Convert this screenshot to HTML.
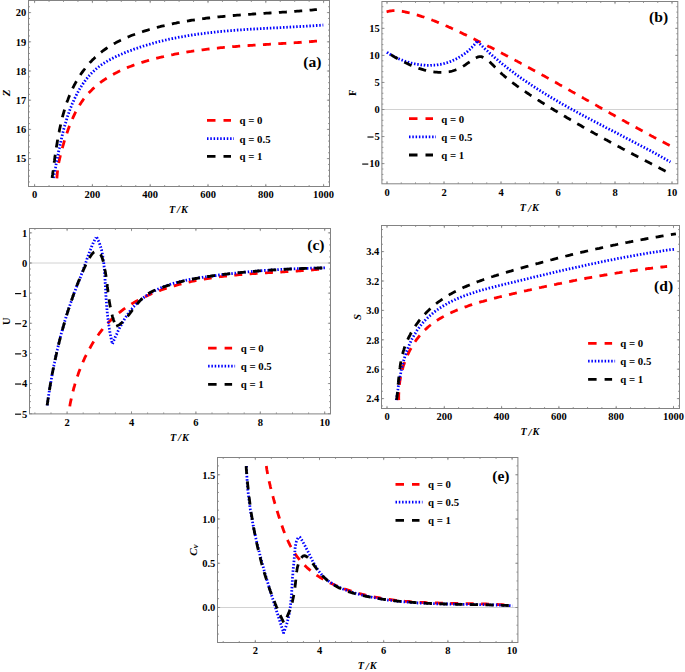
<!DOCTYPE html>
<html><head><meta charset="utf-8"><style>
html,body{margin:0;padding:0;background:#fff;}
svg{display:block;}
text{font-family:"Liberation Serif", serif;font-weight:bold;fill:#000;}
</style></head><body>
<svg width="685" height="672" viewBox="0 0 685 672">
<path d="M34.60 186.5v-2.6M34.60 0.5v2.6M92.40 186.5v-2.6M92.40 0.5v2.6M150.20 186.5v-2.6M150.20 0.5v2.6M208.00 186.5v-2.6M208.00 0.5v2.6M265.80 186.5v-2.6M265.80 0.5v2.6M323.60 186.5v-2.6M323.60 0.5v2.6M34.60 186.5v-1.5M34.60 0.5v1.5M49.05 186.5v-1.5M49.05 0.5v1.5M63.50 186.5v-1.5M63.50 0.5v1.5M77.95 186.5v-1.5M77.95 0.5v1.5M92.40 186.5v-1.5M92.40 0.5v1.5M106.85 186.5v-1.5M106.85 0.5v1.5M121.30 186.5v-1.5M121.30 0.5v1.5M135.75 186.5v-1.5M135.75 0.5v1.5M150.20 186.5v-1.5M150.20 0.5v1.5M164.65 186.5v-1.5M164.65 0.5v1.5M179.10 186.5v-1.5M179.10 0.5v1.5M193.55 186.5v-1.5M193.55 0.5v1.5M208.00 186.5v-1.5M208.00 0.5v1.5M222.45 186.5v-1.5M222.45 0.5v1.5M236.90 186.5v-1.5M236.90 0.5v1.5M251.35 186.5v-1.5M251.35 0.5v1.5M265.80 186.5v-1.5M265.80 0.5v1.5M280.25 186.5v-1.5M280.25 0.5v1.5M294.70 186.5v-1.5M294.70 0.5v1.5M309.15 186.5v-1.5M309.15 0.5v1.5M323.60 186.5v-1.5M323.60 0.5v1.5M28.5 158.60h2.6M329.5 158.60h-2.6M28.5 129.40h2.6M329.5 129.40h-2.6M28.5 100.20h2.6M329.5 100.20h-2.6M28.5 71.00h2.6M329.5 71.00h-2.6M28.5 41.80h2.6M329.5 41.80h-2.6M28.5 12.60h2.6M329.5 12.60h-2.6M28.5 181.96h1.5M329.5 181.96h-1.5M28.5 176.12h1.5M329.5 176.12h-1.5M28.5 170.28h1.5M329.5 170.28h-1.5M28.5 164.44h1.5M329.5 164.44h-1.5M28.5 158.60h1.5M329.5 158.60h-1.5M28.5 152.76h1.5M329.5 152.76h-1.5M28.5 146.92h1.5M329.5 146.92h-1.5M28.5 141.08h1.5M329.5 141.08h-1.5M28.5 135.24h1.5M329.5 135.24h-1.5M28.5 129.40h1.5M329.5 129.40h-1.5M28.5 123.56h1.5M329.5 123.56h-1.5M28.5 117.72h1.5M329.5 117.72h-1.5M28.5 111.88h1.5M329.5 111.88h-1.5M28.5 106.04h1.5M329.5 106.04h-1.5M28.5 100.20h1.5M329.5 100.20h-1.5M28.5 94.36h1.5M329.5 94.36h-1.5M28.5 88.52h1.5M329.5 88.52h-1.5M28.5 82.68h1.5M329.5 82.68h-1.5M28.5 76.84h1.5M329.5 76.84h-1.5M28.5 71.00h1.5M329.5 71.00h-1.5M28.5 65.16h1.5M329.5 65.16h-1.5M28.5 59.32h1.5M329.5 59.32h-1.5M28.5 53.48h1.5M329.5 53.48h-1.5M28.5 47.64h1.5M329.5 47.64h-1.5M28.5 41.80h1.5M329.5 41.80h-1.5M28.5 35.96h1.5M329.5 35.96h-1.5M28.5 30.12h1.5M329.5 30.12h-1.5M28.5 24.28h1.5M329.5 24.28h-1.5M28.5 18.44h1.5M329.5 18.44h-1.5M28.5 12.60h1.5M329.5 12.60h-1.5M28.5 6.76h1.5M329.5 6.76h-1.5" stroke="#838383" stroke-width="0.8" fill="none"/>
<rect x="28.5" y="0.5" width="301.0" height="186.0" fill="none" stroke="#838383" stroke-width="1"/>
<text x="34.60" y="198.30" text-anchor="middle" font-size="10.5">0</text>
<text x="92.40" y="198.30" text-anchor="middle" font-size="10.5">200</text>
<text x="150.20" y="198.30" text-anchor="middle" font-size="10.5">400</text>
<text x="208.00" y="198.30" text-anchor="middle" font-size="10.5">600</text>
<text x="265.80" y="198.30" text-anchor="middle" font-size="10.5">800</text>
<text x="323.60" y="198.30" text-anchor="middle" font-size="10.5">1000</text>
<text x="26.30" y="162.40" text-anchor="end" font-size="10.5">15</text>
<text x="26.30" y="133.20" text-anchor="end" font-size="10.5">16</text>
<text x="26.30" y="104.00" text-anchor="end" font-size="10.5">17</text>
<text x="26.30" y="74.80" text-anchor="end" font-size="10.5">18</text>
<text x="26.30" y="45.60" text-anchor="end" font-size="10.5">19</text>
<text x="26.30" y="16.40" text-anchor="end" font-size="10.5">20</text>
<text x="178.40" y="212.50" text-anchor="middle" font-size="10.2" font-style="italic">T<tspan dx="1.9" font-size="11" dy="0.6">/</tspan><tspan dx="0.9" dy="-0.6">K</tspan></text>
<text transform="translate(10.10,92.80) rotate(-90)" text-anchor="middle" font-size="10.9" font-style="italic">Z</text>
<text x="321.40" y="66.80" text-anchor="end" font-size="15.6">(a)</text>
<path d="M56.9 178.3 L57.0 176.5 L57.2 174.7 L57.3 173.0 L57.5 171.3 L57.7 169.6 L58.0 167.9 L58.2 166.3 L58.5 164.7 L58.7 163.1 L59.0 161.5 L59.4 159.9 L59.7 158.3 L60.1 156.8 L60.4 155.2 L60.8 153.7 L61.2 152.2 L61.6 150.6 L62.0 149.1 L62.5 147.5 L62.9 146.0 L63.4 144.4 L63.8 142.8 L64.3 141.2 L64.8 139.6 L65.3 138.0 L65.8 136.4 L66.4 134.8 L66.9 133.2 L67.5 131.6 L68.0 130.0 L68.6 128.3 L69.2 126.7 L69.9 125.1 L70.5 123.5 L71.1 121.9 L71.8 120.3 L72.5 118.7 L73.2 117.1 L73.9 115.6 L74.7 114.0 L75.4 112.5 L76.2 111.0 L77.0 109.5 L77.9 108.0 L78.7 106.5 L79.6 105.1 L80.5 103.7 L81.4 102.3 L82.4 100.9 L83.3 99.5 L84.3 98.2 L85.4 96.9 L86.4 95.7 L87.5 94.4 L88.6 93.2 L89.7 92.0 L90.8 90.9 L92.0 89.7 L93.1 88.6 L94.3 87.5 L95.5 86.4 L96.8 85.4 L98.0 84.4 L99.3 83.4 L100.6 82.4 L101.9 81.4 L103.2 80.5 L104.5 79.6 L105.9 78.7 L107.3 77.8 L108.7 76.9 L110.1 76.1 L111.5 75.3 L112.9 74.5 L114.3 73.7 L115.8 72.9 L117.3 72.2 L118.7 71.4 L120.2 70.7 L121.7 70.0 L123.2 69.3 L124.8 68.7 L126.3 68.0 L127.8 67.4 L129.4 66.8 L131.0 66.2 L132.5 65.6 L134.1 65.0 L135.7 64.4 L137.3 63.9 L138.9 63.4 L140.5 62.8 L142.1 62.3 L143.7 61.8 L145.3 61.3 L146.9 60.9 L148.6 60.4 L150.2 59.9 L151.8 59.5 L153.4 59.1 L155.1 58.6 L156.7 58.2 L158.3 57.8 L160.0 57.4 L161.6 57.0 L163.3 56.7 L164.9 56.3 L166.5 55.9 L168.2 55.6 L169.8 55.2 L171.4 54.9 L173.1 54.6 L174.7 54.2 L176.4 53.9 L178.0 53.6 L179.6 53.3 L181.3 53.0 L182.9 52.7 L184.6 52.4 L186.2 52.2 L187.8 51.9 L189.5 51.6 L191.1 51.4 L192.8 51.1 L194.4 50.9 L196.1 50.7 L197.7 50.4 L199.4 50.2 L201.0 50.0 L202.6 49.8 L204.3 49.6 L205.9 49.4 L207.6 49.2 L209.2 49.0 L210.9 48.8 L212.5 48.6 L214.2 48.4 L215.8 48.2 L217.5 48.1 L219.1 47.9 L220.8 47.7 L222.4 47.6 L224.1 47.4 L225.7 47.3 L227.4 47.1 L229.0 47.0 L230.7 46.9 L232.3 46.7 L234.0 46.6 L235.6 46.5 L237.3 46.3 L238.9 46.2 L240.6 46.1 L242.2 46.0 L243.9 45.8 L245.5 45.7 L247.2 45.6 L248.9 45.5 L250.5 45.4 L252.2 45.3 L253.8 45.2 L255.5 45.1 L257.1 45.0 L258.8 44.9 L260.5 44.8 L262.1 44.7 L263.8 44.6 L265.4 44.5 L267.1 44.4 L268.8 44.3 L270.4 44.2 L272.1 44.1 L273.7 44.0 L275.4 43.9 L277.1 43.8 L278.7 43.7 L280.4 43.6 L282.0 43.5 L283.7 43.4 L285.4 43.3 L287.0 43.2 L288.7 43.1 L290.4 43.0 L292.0 42.9 L293.7 42.8 L295.4 42.7 L297.0 42.6 L298.7 42.5 L300.4 42.4 L302.0 42.2 L303.7 42.1 L305.4 42.0 L307.0 41.9 L308.7 41.8 L310.4 41.6 L312.0 41.5 L313.7 41.4 L315.4 41.2 L317.0 41.1" fill="none" stroke="#ff0000" stroke-width="2.8" stroke-dasharray="8 7.4" stroke-linejoin="round"/>
<path d="M53.4 178.0 L53.8 176.3 L54.1 174.6 L54.5 172.9 L54.8 171.2 L55.1 169.5 L55.5 167.8 L55.8 166.0 L56.1 164.3 L56.5 162.6 L56.8 160.8 L57.2 159.1 L57.5 157.4 L57.8 155.6 L58.2 153.9 L58.5 152.1 L58.9 150.4 L59.3 148.6 L59.6 146.9 L60.0 145.1 L60.4 143.4 L60.8 141.6 L61.2 139.9 L61.6 138.1 L62.0 136.4 L62.4 134.6 L62.8 132.9 L63.3 131.1 L63.7 129.4 L64.2 127.7 L64.7 125.9 L65.2 124.2 L65.7 122.5 L66.2 120.8 L66.7 119.1 L67.3 117.4 L67.8 115.7 L68.4 114.0 L69.0 112.3 L69.6 110.6 L70.2 108.9 L70.9 107.2 L71.6 105.6 L72.2 103.9 L72.9 102.3 L73.7 100.7 L74.4 99.0 L75.2 97.4 L76.0 95.8 L76.8 94.2 L77.6 92.7 L78.5 91.1 L79.3 89.6 L80.2 88.0 L81.2 86.5 L82.1 85.1 L83.1 83.6 L84.1 82.2 L85.2 80.7 L86.2 79.3 L87.3 78.0 L88.4 76.6 L89.6 75.3 L90.8 74.0 L92.0 72.8 L93.2 71.6 L94.5 70.4 L95.8 69.2 L97.1 68.1 L98.5 67.0 L99.9 65.9 L101.3 64.9 L102.8 63.9 L104.2 63.0 L105.7 62.0 L107.3 61.1 L108.8 60.2 L110.4 59.4 L112.0 58.6 L113.6 57.8 L115.2 57.0 L116.8 56.2 L118.5 55.5 L120.1 54.7 L121.8 54.0 L123.4 53.3 L125.1 52.6 L126.8 52.0 L128.4 51.3 L130.1 50.7 L131.8 50.1 L133.5 49.4 L135.2 48.8 L136.9 48.3 L138.5 47.7 L140.2 47.1 L141.9 46.6 L143.6 46.0 L145.3 45.5 L147.0 45.0 L148.8 44.5 L150.5 44.0 L152.2 43.5 L153.9 43.0 L155.6 42.5 L157.3 42.1 L159.0 41.6 L160.8 41.2 L162.5 40.8 L164.2 40.4 L165.9 40.0 L167.7 39.6 L169.4 39.2 L171.1 38.8 L172.9 38.5 L174.6 38.1 L176.4 37.8 L178.1 37.4 L179.8 37.1 L181.6 36.8 L183.3 36.5 L185.1 36.2 L186.8 35.9 L188.6 35.6 L190.3 35.3 L192.1 35.0 L193.8 34.7 L195.6 34.5 L197.4 34.2 L199.1 34.0 L200.9 33.8 L202.6 33.5 L204.4 33.3 L206.2 33.1 L207.9 32.9 L209.7 32.7 L211.5 32.5 L213.2 32.3 L215.0 32.1 L216.8 31.9 L218.6 31.7 L220.3 31.5 L222.1 31.4 L223.9 31.2 L225.7 31.0 L227.4 30.9 L229.2 30.7 L231.0 30.6 L232.8 30.4 L234.5 30.3 L236.3 30.2 L238.1 30.0 L239.9 29.9 L241.7 29.8 L243.4 29.7 L245.2 29.6 L247.0 29.4 L248.8 29.3 L250.6 29.2 L252.3 29.1 L254.1 29.0 L255.9 28.9 L257.7 28.8 L259.5 28.7 L261.3 28.6 L263.0 28.5 L264.8 28.4 L266.6 28.3 L268.4 28.2 L270.2 28.1 L271.9 28.0 L273.7 27.9 L275.5 27.9 L277.3 27.8 L279.1 27.7 L280.8 27.6 L282.6 27.5 L284.4 27.4 L286.2 27.3 L288.0 27.2 L289.7 27.1 L291.5 27.0 L293.3 26.9 L295.1 26.8 L296.8 26.7 L298.6 26.6 L300.4 26.5 L302.1 26.4 L303.9 26.3 L305.7 26.2 L307.5 26.1 L309.2 26.0 L311.0 25.9 L312.7 25.8 L314.5 25.6 L316.3 25.5 L318.0 25.4 L319.8 25.3 L321.6 25.1 L323.3 25.0" fill="none" stroke="#0000ff" stroke-width="2.8" stroke-dasharray="1.5 1.8" stroke-linejoin="round"/>
<path d="M52.1 178.0 L52.3 176.3 L52.6 174.5 L52.8 172.8 L53.1 171.0 L53.3 169.3 L53.5 167.5 L53.8 165.7 L54.0 163.9 L54.2 162.2 L54.5 160.4 L54.7 158.6 L55.0 156.8 L55.2 155.0 L55.5 153.2 L55.8 151.4 L56.0 149.6 L56.3 147.8 L56.6 146.0 L56.9 144.2 L57.2 142.4 L57.5 140.6 L57.8 138.8 L58.1 137.0 L58.5 135.2 L58.8 133.4 L59.2 131.6 L59.5 129.8 L59.9 128.0 L60.3 126.2 L60.7 124.4 L61.1 122.6 L61.5 120.8 L62.0 119.0 L62.4 117.2 L62.9 115.4 L63.4 113.7 L63.9 111.9 L64.4 110.1 L64.9 108.4 L65.5 106.6 L66.0 104.9 L66.6 103.1 L67.2 101.4 L67.9 99.7 L68.5 98.0 L69.2 96.3 L69.9 94.6 L70.6 92.9 L71.4 91.2 L72.1 89.6 L72.9 87.9 L73.7 86.3 L74.5 84.7 L75.4 83.1 L76.3 81.5 L77.2 79.9 L78.1 78.4 L79.1 76.9 L80.1 75.3 L81.1 73.8 L82.1 72.4 L83.2 70.9 L84.3 69.5 L85.4 68.0 L86.5 66.6 L87.7 65.2 L88.8 63.9 L90.0 62.5 L91.3 61.2 L92.5 59.9 L93.8 58.7 L95.1 57.4 L96.4 56.2 L97.7 55.0 L99.1 53.9 L100.5 52.7 L101.9 51.6 L103.3 50.5 L104.8 49.5 L106.2 48.5 L107.7 47.5 L109.3 46.5 L110.8 45.5 L112.3 44.6 L113.9 43.7 L115.5 42.9 L117.1 42.0 L118.7 41.2 L120.3 40.4 L121.9 39.6 L123.6 38.8 L125.3 38.1 L126.9 37.4 L128.6 36.7 L130.3 36.0 L132.0 35.3 L133.7 34.7 L135.5 34.1 L137.2 33.4 L138.9 32.8 L140.7 32.3 L142.4 31.7 L144.1 31.1 L145.9 30.6 L147.6 30.1 L149.4 29.5 L151.1 29.0 L152.9 28.5 L154.7 28.0 L156.4 27.6 L158.2 27.1 L159.9 26.7 L161.7 26.2 L163.5 25.8 L165.3 25.4 L167.0 25.0 L168.8 24.6 L170.6 24.2 L172.4 23.8 L174.1 23.4 L175.9 23.1 L177.7 22.7 L179.5 22.4 L181.3 22.0 L183.1 21.7 L184.8 21.4 L186.6 21.1 L188.4 20.8 L190.2 20.5 L192.0 20.2 L193.8 20.0 L195.6 19.7 L197.4 19.4 L199.2 19.2 L201.0 18.9 L202.8 18.7 L204.6 18.5 L206.4 18.2 L208.2 18.0 L210.0 17.8 L211.8 17.6 L213.6 17.4 L215.5 17.2 L217.3 17.0 L219.1 16.8 L220.9 16.6 L222.7 16.5 L224.5 16.3 L226.3 16.1 L228.1 16.0 L229.9 15.8 L231.8 15.7 L233.6 15.5 L235.4 15.4 L237.2 15.2 L239.0 15.1 L240.8 14.9 L242.7 14.8 L244.5 14.7 L246.3 14.5 L248.1 14.4 L249.9 14.3 L251.7 14.2 L253.6 14.0 L255.4 13.9 L257.2 13.8 L259.0 13.7 L260.8 13.6 L262.6 13.5 L264.5 13.3 L266.3 13.2 L268.1 13.1 L269.9 13.0 L271.7 12.9 L273.5 12.8 L275.4 12.7 L277.2 12.6 L279.0 12.4 L280.8 12.3 L282.6 12.2 L284.4 12.1 L286.2 12.0 L288.1 11.8 L289.9 11.7 L291.7 11.6 L293.5 11.5 L295.3 11.3 L297.1 11.2 L298.9 11.1 L300.7 10.9 L302.5 10.8 L304.3 10.7 L306.1 10.5 L307.9 10.4 L309.7 10.2 L311.5 10.1 L313.3 9.9 L315.1 9.7 L316.9 9.6" fill="none" stroke="#000000" stroke-width="2.8" stroke-dasharray="8 7.4" stroke-linejoin="round"/>
<path d="M207.00 120.30h8.5M223.50 120.30h7.5" stroke="#ff0000" stroke-width="2.8"/>
<path d="M207.00 156.40h8.5M223.50 156.40h7.5" stroke="#000000" stroke-width="2.8"/>
<path d="M207.00 138.60h27" stroke="#0000ff" stroke-width="2.8" stroke-dasharray="1.5 1.8"/>
<text x="239.50" y="124.20" font-size="10.8">q = 0</text>
<text x="239.50" y="142.50" font-size="10.8">q = 0.5</text>
<text x="239.50" y="160.30" font-size="10.8">q = 1</text>
<line x1="381.9" x2="677.8" y1="109.50" y2="109.50" stroke="#d2d2d2" stroke-width="1"/>
<path d="M387.00 183.8v-2.6M387.00 1.5v2.6M444.00 183.8v-2.6M444.00 1.5v2.6M501.00 183.8v-2.6M501.00 1.5v2.6M558.00 183.8v-2.6M558.00 1.5v2.6M615.00 183.8v-2.6M615.00 1.5v2.6M672.00 183.8v-2.6M672.00 1.5v2.6M387.00 183.8v-1.5M387.00 1.5v1.5M401.25 183.8v-1.5M401.25 1.5v1.5M415.50 183.8v-1.5M415.50 1.5v1.5M429.75 183.8v-1.5M429.75 1.5v1.5M444.00 183.8v-1.5M444.00 1.5v1.5M458.25 183.8v-1.5M458.25 1.5v1.5M472.50 183.8v-1.5M472.50 1.5v1.5M486.75 183.8v-1.5M486.75 1.5v1.5M501.00 183.8v-1.5M501.00 1.5v1.5M515.25 183.8v-1.5M515.25 1.5v1.5M529.50 183.8v-1.5M529.50 1.5v1.5M543.75 183.8v-1.5M543.75 1.5v1.5M558.00 183.8v-1.5M558.00 1.5v1.5M572.25 183.8v-1.5M572.25 1.5v1.5M586.50 183.8v-1.5M586.50 1.5v1.5M600.75 183.8v-1.5M600.75 1.5v1.5M615.00 183.8v-1.5M615.00 1.5v1.5M629.25 183.8v-1.5M629.25 1.5v1.5M643.50 183.8v-1.5M643.50 1.5v1.5M657.75 183.8v-1.5M657.75 1.5v1.5M672.00 183.8v-1.5M672.00 1.5v1.5M381.9 163.60h2.6M677.8 163.60h-2.6M381.9 136.55h2.6M677.8 136.55h-2.6M381.9 109.50h2.6M677.8 109.50h-2.6M381.9 82.45h2.6M677.8 82.45h-2.6M381.9 55.40h2.6M677.8 55.40h-2.6M381.9 28.35h2.6M677.8 28.35h-2.6M381.9 179.83h1.5M677.8 179.83h-1.5M381.9 174.42h1.5M677.8 174.42h-1.5M381.9 169.01h1.5M677.8 169.01h-1.5M381.9 163.60h1.5M677.8 163.60h-1.5M381.9 158.19h1.5M677.8 158.19h-1.5M381.9 152.78h1.5M677.8 152.78h-1.5M381.9 147.37h1.5M677.8 147.37h-1.5M381.9 141.96h1.5M677.8 141.96h-1.5M381.9 136.55h1.5M677.8 136.55h-1.5M381.9 131.14h1.5M677.8 131.14h-1.5M381.9 125.73h1.5M677.8 125.73h-1.5M381.9 120.32h1.5M677.8 120.32h-1.5M381.9 114.91h1.5M677.8 114.91h-1.5M381.9 109.50h1.5M677.8 109.50h-1.5M381.9 104.09h1.5M677.8 104.09h-1.5M381.9 98.68h1.5M677.8 98.68h-1.5M381.9 93.27h1.5M677.8 93.27h-1.5M381.9 87.86h1.5M677.8 87.86h-1.5M381.9 82.45h1.5M677.8 82.45h-1.5M381.9 77.04h1.5M677.8 77.04h-1.5M381.9 71.63h1.5M677.8 71.63h-1.5M381.9 66.22h1.5M677.8 66.22h-1.5M381.9 60.81h1.5M677.8 60.81h-1.5M381.9 55.40h1.5M677.8 55.40h-1.5M381.9 49.99h1.5M677.8 49.99h-1.5M381.9 44.58h1.5M677.8 44.58h-1.5M381.9 39.17h1.5M677.8 39.17h-1.5M381.9 33.76h1.5M677.8 33.76h-1.5M381.9 28.35h1.5M677.8 28.35h-1.5M381.9 22.94h1.5M677.8 22.94h-1.5M381.9 17.53h1.5M677.8 17.53h-1.5M381.9 12.12h1.5M677.8 12.12h-1.5M381.9 6.71h1.5M677.8 6.71h-1.5" stroke="#838383" stroke-width="0.8" fill="none"/>
<rect x="381.9" y="1.5" width="295.9" height="182.3" fill="none" stroke="#838383" stroke-width="1"/>
<text x="387.00" y="195.60" text-anchor="middle" font-size="10.5">0</text>
<text x="444.00" y="195.60" text-anchor="middle" font-size="10.5">2</text>
<text x="501.00" y="195.60" text-anchor="middle" font-size="10.5">4</text>
<text x="558.00" y="195.60" text-anchor="middle" font-size="10.5">6</text>
<text x="615.00" y="195.60" text-anchor="middle" font-size="10.5">8</text>
<text x="672.00" y="195.60" text-anchor="middle" font-size="10.5">10</text>
<text x="379.70" y="167.40" text-anchor="end" font-size="10.5">10</text>
<rect x="362.20" y="163.50" width="6.1" height="1.15" fill="#000"/>
<text x="379.70" y="140.35" text-anchor="end" font-size="10.5">5</text>
<rect x="367.45" y="136.45" width="6.1" height="1.15" fill="#000"/>
<text x="379.70" y="113.30" text-anchor="end" font-size="10.5">0</text>
<text x="379.70" y="86.25" text-anchor="end" font-size="10.5">5</text>
<text x="379.70" y="59.20" text-anchor="end" font-size="10.5">10</text>
<text x="379.70" y="32.15" text-anchor="end" font-size="10.5">15</text>
<text x="529.25" y="211.00" text-anchor="middle" font-size="10.2" font-style="italic">T<tspan dx="1.9" font-size="11" dy="0.6">/</tspan><tspan dx="0.9" dy="-0.6">K</tspan></text>
<text transform="translate(356.10,92.65) rotate(-90)" text-anchor="middle" font-size="10.8">F</text>
<text x="668.10" y="22.10" text-anchor="end" font-size="15.6">(b)</text>
<path d="M386.6 11.8 L388.2 11.4 L389.7 11.0 L391.3 10.8 L392.8 10.7 L394.4 10.6 L395.9 10.6 L397.5 10.7 L399.1 10.9 L400.6 11.1 L402.2 11.3 L403.8 11.6 L405.3 12.0 L406.9 12.3 L408.4 12.7 L409.9 13.0 L411.5 13.4 L413.0 13.8 L414.5 14.3 L416.1 14.7 L417.6 15.1 L419.1 15.6 L420.6 16.1 L422.1 16.6 L423.6 17.0 L425.1 17.6 L426.6 18.1 L428.1 18.6 L429.6 19.1 L431.1 19.7 L432.6 20.3 L434.0 20.8 L435.5 21.4 L437.0 22.0 L438.5 22.6 L439.9 23.2 L441.4 23.8 L442.9 24.4 L444.3 25.0 L445.8 25.7 L447.2 26.3 L448.7 27.0 L450.1 27.6 L451.6 28.3 L453.0 28.9 L454.5 29.6 L455.9 30.3 L457.4 30.9 L458.8 31.6 L460.2 32.3 L461.7 33.0 L463.1 33.7 L464.5 34.4 L466.0 35.0 L467.4 35.7 L468.8 36.4 L470.3 37.1 L471.7 37.8 L473.1 38.5 L474.6 39.2 L476.0 39.9 L477.4 40.7 L478.8 41.4 L480.2 42.1 L481.7 42.8 L483.1 43.5 L484.5 44.2 L485.9 44.9 L487.3 45.7 L488.7 46.4 L490.2 47.1 L491.6 47.8 L493.0 48.5 L494.4 49.3 L495.8 50.0 L497.2 50.7 L498.6 51.5 L500.0 52.2 L501.4 52.9 L502.8 53.7 L504.3 54.4 L505.7 55.2 L507.1 55.9 L508.5 56.6 L509.9 57.4 L511.3 58.1 L512.7 58.9 L514.1 59.6 L515.5 60.4 L516.9 61.1 L518.3 61.9 L519.7 62.6 L521.1 63.4 L522.5 64.1 L523.8 64.9 L525.2 65.7 L526.6 66.4 L528.0 67.2 L529.4 67.9 L530.8 68.7 L532.2 69.5 L533.6 70.2 L535.0 71.0 L536.4 71.7 L537.8 72.5 L539.2 73.3 L540.5 74.0 L541.9 74.8 L543.3 75.6 L544.7 76.3 L546.1 77.1 L547.5 77.9 L548.9 78.7 L550.2 79.4 L551.6 80.2 L553.0 81.0 L554.4 81.8 L555.8 82.5 L557.2 83.3 L558.6 84.1 L559.9 84.9 L561.3 85.6 L562.7 86.4 L564.1 87.2 L565.5 88.0 L566.9 88.7 L568.2 89.5 L569.6 90.3 L571.0 91.1 L572.4 91.9 L573.8 92.6 L575.1 93.4 L576.5 94.2 L577.9 95.0 L579.3 95.8 L580.7 96.5 L582.1 97.3 L583.4 98.1 L584.8 98.9 L586.2 99.7 L587.6 100.4 L589.0 101.2 L590.3 102.0 L591.7 102.8 L593.1 103.6 L594.5 104.3 L595.9 105.1 L597.3 105.9 L598.6 106.7 L600.0 107.4 L601.4 108.2 L602.8 109.0 L604.2 109.8 L605.6 110.6 L606.9 111.3 L608.3 112.1 L609.7 112.9 L611.1 113.7 L612.5 114.4 L613.9 115.2 L615.2 116.0 L616.6 116.8 L618.0 117.5 L619.4 118.3 L620.8 119.1 L622.2 119.9 L623.6 120.6 L625.0 121.4 L626.3 122.2 L627.7 122.9 L629.1 123.7 L630.5 124.5 L631.9 125.2 L633.3 126.0 L634.7 126.8 L636.1 127.5 L637.5 128.3 L638.9 129.0 L640.3 129.8 L641.7 130.6 L643.0 131.3 L644.4 132.1 L645.8 132.8 L647.2 133.6 L648.6 134.4 L650.0 135.1 L651.4 135.9 L652.8 136.6 L654.2 137.4 L655.6 138.1 L657.0 138.9 L658.4 139.6 L659.8 140.4 L661.2 141.1 L662.7 141.8 L664.1 142.6 L665.5 143.3 L666.9 144.1 L668.3 144.8 L669.7 145.5" fill="none" stroke="#ff0000" stroke-width="2.8" stroke-dasharray="8 7.4" stroke-linejoin="round"/>
<path d="M386.9 52.3 L387.3 52.6 L387.8 52.8 L388.2 53.1 L388.6 53.4 L389.0 53.6 L389.4 53.9 L389.9 54.2 L390.3 54.4 L390.7 54.7 L391.1 54.9 L391.6 55.2 L392.0 55.4 L392.5 55.7 L392.9 55.9 L393.3 56.1 L393.8 56.4 L394.2 56.6 L394.7 56.8 L395.1 57.1 L395.6 57.3 L396.0 57.5 L396.5 57.7 L396.9 57.9 L397.4 58.2 L397.9 58.4 L398.3 58.6 L398.8 58.8 L399.2 59.0 L399.7 59.2 L400.2 59.4 L400.7 59.6 L401.1 59.8 L401.6 60.0 L402.1 60.1 L402.5 60.3 L403.0 60.5 L403.5 60.7 L404.0 60.9 L404.5 61.0 L404.9 61.2 L405.4 61.4 L405.9 61.5 L406.4 61.7 L406.9 61.8 L407.4 62.0 L407.8 62.1 L408.3 62.3 L408.8 62.4 L409.3 62.6 L409.8 62.7 L410.3 62.8 L410.8 63.0 L411.3 63.1 L411.8 63.2 L412.3 63.3 L412.8 63.5 L413.3 63.6 L413.8 63.7 L414.3 63.8 L414.8 63.9 L415.3 64.0 L415.8 64.1 L416.3 64.2 L416.8 64.3 L417.3 64.4 L417.8 64.4 L418.3 64.5 L418.8 64.6 L419.3 64.7 L419.8 64.7 L420.3 64.8 L420.8 64.9 L421.3 64.9 L421.8 65.0 L422.3 65.0 L422.8 65.1 L423.3 65.1 L423.8 65.2 L424.3 65.2 L424.8 65.2 L425.3 65.3 L425.8 65.3 L426.3 65.3 L426.8 65.3 L427.3 65.3 L427.8 65.4 L428.3 65.4 L428.8 65.4 L429.3 65.4 L429.8 65.4 L430.3 65.4 L430.8 65.3 L431.3 65.3 L431.8 65.3 L432.3 65.3 L432.8 65.3 L433.3 65.2 L433.8 65.2 L434.3 65.1 L434.8 65.1 L435.3 65.1 L435.8 65.0 L436.3 64.9 L436.8 64.9 L437.3 64.8 L437.8 64.8 L438.3 64.7 L438.8 64.6 L439.3 64.5 L439.8 64.4 L440.2 64.4 L440.7 64.3 L441.2 64.2 L441.7 64.1 L442.2 64.0 L442.7 63.8 L443.2 63.7 L443.6 63.6 L444.1 63.5 L444.6 63.4 L445.1 63.2 L445.6 63.1 L446.0 63.0 L446.5 62.8 L447.0 62.7 L447.5 62.5 L447.9 62.4 L448.4 62.2 L448.9 62.1 L449.3 61.9 L449.8 61.7 L450.3 61.6 L450.7 61.4 L451.2 61.2 L451.6 61.0 L452.1 60.8 L452.6 60.6 L453.0 60.4 L453.5 60.2 L453.9 60.0 L454.4 59.8 L454.8 59.6 L455.3 59.4 L455.7 59.2 L456.2 58.9 L456.6 58.7 L457.0 58.5 L457.5 58.3 L457.9 58.0 L458.4 57.8 L458.8 57.5 L459.2 57.3 L459.7 57.0 L460.1 56.8 L460.5 56.5 L460.9 56.2 L461.4 56.0 L461.8 55.7 L462.2 55.4 L462.6 55.1 L463.0 54.9 L463.4 54.6 L463.8 54.3 L464.3 54.0 L464.7 53.7 L465.1 53.4 L465.5 53.1 L465.9 52.8 L466.3 52.4 L466.7 52.1 L467.1 51.8 L467.4 51.5 L467.8 51.2 L468.2 50.8 L468.6 50.5 L469.0 50.1 L469.4 49.8 L469.7 49.5 L470.1 49.1 L470.5 48.7 L470.9 48.4 L471.2 48.0 L471.6 47.7 L472.0 47.3 L472.3 46.9 L472.7 46.6 L473.0 46.2 L473.4 45.8 L473.7 45.4 L474.1 45.0 L474.4 44.6 L474.8 44.2 L475.1 43.8 L475.4 43.4 L475.8 43.0 L476.1 42.6 L476.4 42.2 L476.7 41.8 L477.1 41.4" fill="none" stroke="#0000ff" stroke-width="2.8" stroke-dasharray="1.5 1.8" stroke-linejoin="round"/>
<path d="M477.4 41.4 L478.2 42.2 L479.0 43.0 L479.9 43.9 L480.7 44.7 L481.5 45.5 L482.3 46.3 L483.2 47.1 L484.0 47.9 L484.8 48.7 L485.7 49.5 L486.5 50.3 L487.4 51.0 L488.2 51.8 L489.1 52.6 L489.9 53.4 L490.8 54.1 L491.7 54.9 L492.5 55.7 L493.4 56.4 L494.3 57.2 L495.1 57.9 L496.0 58.7 L496.9 59.4 L497.8 60.1 L498.6 60.9 L499.5 61.6 L500.4 62.3 L501.3 63.1 L502.2 63.8 L503.1 64.5 L504.0 65.2 L504.9 65.9 L505.8 66.7 L506.7 67.4 L507.6 68.1 L508.5 68.8 L509.4 69.5 L510.3 70.2 L511.2 70.8 L512.1 71.5 L513.1 72.2 L514.0 72.9 L514.9 73.6 L515.8 74.3 L516.7 74.9 L517.7 75.6 L518.6 76.3 L519.5 76.9 L520.5 77.6 L521.4 78.3 L522.3 78.9 L523.3 79.6 L524.2 80.2 L525.2 80.9 L526.1 81.5 L527.1 82.2 L528.0 82.8 L529.0 83.4 L529.9 84.1 L530.9 84.7 L531.8 85.3 L532.8 86.0 L533.7 86.6 L534.7 87.2 L535.6 87.8 L536.6 88.5 L537.6 89.1 L538.5 89.7 L539.5 90.3 L540.5 90.9 L541.5 91.5 L542.4 92.1 L543.4 92.7 L544.4 93.3 L545.3 93.9 L546.3 94.5 L547.3 95.1 L548.3 95.7 L549.3 96.3 L550.2 96.9 L551.2 97.5 L552.2 98.1 L553.2 98.7 L554.2 99.3 L555.2 99.9 L556.2 100.4 L557.2 101.0 L558.2 101.6 L559.2 102.2 L560.1 102.7 L561.1 103.3 L562.1 103.9 L563.1 104.4 L564.1 105.0 L565.1 105.6 L566.1 106.1 L567.1 106.7 L568.1 107.3 L569.1 107.8 L570.1 108.4 L571.2 109.0 L572.2 109.5 L573.2 110.1 L574.2 110.6 L575.2 111.2 L576.2 111.7 L577.2 112.3 L578.2 112.8 L579.2 113.4 L580.2 113.9 L581.2 114.5 L582.3 115.0 L583.3 115.6 L584.3 116.1 L585.3 116.6 L586.3 117.2 L587.3 117.7 L588.4 118.3 L589.4 118.8 L590.4 119.4 L591.4 119.9 L592.4 120.4 L593.4 121.0 L594.5 121.5 L595.5 122.0 L596.5 122.6 L597.5 123.1 L598.5 123.6 L599.6 124.2 L600.6 124.7 L601.6 125.2 L602.6 125.8 L603.6 126.3 L604.7 126.8 L605.7 127.4 L606.7 127.9 L607.7 128.4 L608.8 129.0 L609.8 129.5 L610.8 130.0 L611.8 130.5 L612.8 131.1 L613.9 131.6 L614.9 132.1 L615.9 132.7 L616.9 133.2 L618.0 133.7 L619.0 134.3 L620.0 134.8 L621.0 135.3 L622.0 135.8 L623.1 136.4 L624.1 136.9 L625.1 137.4 L626.1 138.0 L627.1 138.5 L628.2 139.0 L629.2 139.6 L630.2 140.1 L631.2 140.6 L632.2 141.2 L633.2 141.7 L634.3 142.2 L635.3 142.8 L636.3 143.3 L637.3 143.8 L638.3 144.4 L639.3 144.9 L640.4 145.4 L641.4 146.0 L642.4 146.5 L643.4 147.1 L644.4 147.6 L645.4 148.1 L646.4 148.7 L647.4 149.2 L648.4 149.8 L649.5 150.3 L650.5 150.8 L651.5 151.4 L652.5 151.9 L653.5 152.5 L654.5 153.0 L655.5 153.6 L656.5 154.1 L657.5 154.7 L658.5 155.2 L659.5 155.8 L660.5 156.4 L661.5 156.9 L662.5 157.5 L663.5 158.0 L664.5 158.6 L665.5 159.1 L666.4 159.7 L667.4 160.3 L668.4 160.8 L669.4 161.4 L670.4 162.0" fill="none" stroke="#0000ff" stroke-width="2.8" stroke-dasharray="1.5 1.8" stroke-linejoin="round"/>
<path d="M387.2 52.4 L388.4 53.2 L389.7 54.0 L391.0 54.8 L392.3 55.6 L393.7 56.4 L395.0 57.2 L396.4 58.0 L397.8 58.8 L399.2 59.5 L400.7 60.3 L402.1 61.1 L403.6 61.8 L405.1 62.6 L406.6 63.3 L408.1 64.0 L409.6 64.7 L411.2 65.4 L412.7 66.0 L414.3 66.7 L415.9 67.3 L417.4 67.8 L419.0 68.4 L420.6 68.9 L422.2 69.4 L423.8 69.9 L425.4 70.3 L427.0 70.7 L428.6 71.1 L430.3 71.4 L431.9 71.7 L433.5 71.9 L435.1 72.1 L436.7 72.2 L438.3 72.4 L439.9 72.4 L441.5 72.4 L443.1 72.4 L444.7 72.3 L446.2 72.1 L447.8 71.9 L449.4 71.7 L450.9 71.4 L452.4 71.0 L454.0 70.5 L455.5 70.0 L457.0 69.5 L458.5 68.8 L459.9 68.1 L461.4 67.4 L462.8 66.5 L464.2 65.6 L465.6 64.7 L467.0 63.7 L468.4 62.7 L469.8 61.8 L471.2 60.8 L472.5 59.9 L473.9 59.0 L475.3 58.2 L476.7 57.5 L478.2 56.9 L479.6 56.6 L481.1 56.7 L482.6 57.2 L484.0 57.9 L485.4 58.6 L486.7 59.5 L488.0 60.5 L489.3 61.5 L490.5 62.6 L491.6 63.8 L492.8 64.9 L494.0 66.1 L495.1 67.3 L496.3 68.5 L497.4 69.7 L498.6 70.8 L499.8 72.0 L501.0 73.1 L502.2 74.2 L503.5 75.3 L504.7 76.4 L505.9 77.4 L507.2 78.5 L508.5 79.5 L509.7 80.5 L511.0 81.5 L512.3 82.5 L513.6 83.5 L514.9 84.4 L516.2 85.4 L517.5 86.3 L518.9 87.3 L520.2 88.2 L521.5 89.1 L522.9 90.1 L524.2 91.0 L525.6 91.9 L526.9 92.8 L528.3 93.7 L529.6 94.6 L531.0 95.5 L532.4 96.3 L533.7 97.2 L535.1 98.1 L536.5 99.0 L537.8 99.9 L539.2 100.7 L540.6 101.6 L541.9 102.5 L543.3 103.3 L544.7 104.2 L546.1 105.0 L547.5 105.9 L548.9 106.8 L550.2 107.6 L551.6 108.5 L553.0 109.3 L554.4 110.2 L555.8 111.0 L557.2 111.8 L558.6 112.7 L560.0 113.5 L561.4 114.4 L562.8 115.2 L564.2 116.0 L565.6 116.8 L567.0 117.7 L568.4 118.5 L569.8 119.3 L571.2 120.1 L572.6 121.0 L574.0 121.8 L575.4 122.6 L576.8 123.4 L578.3 124.2 L579.7 125.0 L581.1 125.8 L582.5 126.7 L583.9 127.5 L585.3 128.3 L586.8 129.1 L588.2 129.9 L589.6 130.7 L591.0 131.5 L592.5 132.3 L593.9 133.1 L595.3 133.9 L596.7 134.6 L598.2 135.4 L599.6 136.2 L601.0 137.0 L602.4 137.8 L603.9 138.6 L605.3 139.4 L606.7 140.1 L608.2 140.9 L609.6 141.7 L611.0 142.5 L612.5 143.3 L613.9 144.0 L615.3 144.8 L616.8 145.6 L618.2 146.4 L619.6 147.1 L621.1 147.9 L622.5 148.7 L624.0 149.4 L625.4 150.2 L626.8 151.0 L628.3 151.7 L629.7 152.5 L631.1 153.2 L632.6 154.0 L634.0 154.8 L635.5 155.5 L636.9 156.3 L638.3 157.0 L639.8 157.8 L641.2 158.6 L642.7 159.3 L644.1 160.1 L645.5 160.8 L647.0 161.6 L648.4 162.3 L649.9 163.1 L651.3 163.8 L652.8 164.6 L654.2 165.3 L655.6 166.1 L657.1 166.8 L658.5 167.6 L660.0 168.3 L661.4 169.1 L662.8 169.8 L664.3 170.6 L665.7 171.3 L667.2 172.1 L668.6 172.8" fill="none" stroke="#000000" stroke-width="2.8" stroke-dasharray="8 7.4" stroke-dashoffset="11.09" stroke-linejoin="round"/>
<path d="M409.00 118.70h8.5M425.50 118.70h7.5" stroke="#ff0000" stroke-width="2.8"/>
<path d="M409.00 155.00h8.5M425.50 155.00h7.5" stroke="#000000" stroke-width="2.8"/>
<path d="M409.00 136.90h27" stroke="#0000ff" stroke-width="2.8" stroke-dasharray="1.5 1.8"/>
<text x="441.30" y="122.60" font-size="10.8">q = 0</text>
<text x="441.30" y="140.80" font-size="10.8">q = 0.5</text>
<text x="441.30" y="158.90" font-size="10.8">q = 1</text>
<line x1="29.5" x2="330.5" y1="263.00" y2="263.00" stroke="#d2d2d2" stroke-width="1"/>
<path d="M67.10 413.9v-2.6M67.10 228.5v2.6M131.50 413.9v-2.6M131.50 228.5v2.6M195.90 413.9v-2.6M195.90 228.5v2.6M260.30 413.9v-2.6M260.30 228.5v2.6M324.70 413.9v-2.6M324.70 228.5v2.6M34.90 413.9v-1.5M34.90 228.5v1.5M51.00 413.9v-1.5M51.00 228.5v1.5M67.10 413.9v-1.5M67.10 228.5v1.5M83.20 413.9v-1.5M83.20 228.5v1.5M99.30 413.9v-1.5M99.30 228.5v1.5M115.40 413.9v-1.5M115.40 228.5v1.5M131.50 413.9v-1.5M131.50 228.5v1.5M147.60 413.9v-1.5M147.60 228.5v1.5M163.70 413.9v-1.5M163.70 228.5v1.5M179.80 413.9v-1.5M179.80 228.5v1.5M195.90 413.9v-1.5M195.90 228.5v1.5M212.00 413.9v-1.5M212.00 228.5v1.5M228.10 413.9v-1.5M228.10 228.5v1.5M244.20 413.9v-1.5M244.20 228.5v1.5M260.30 413.9v-1.5M260.30 228.5v1.5M276.40 413.9v-1.5M276.40 228.5v1.5M292.50 413.9v-1.5M292.50 228.5v1.5M308.60 413.9v-1.5M308.60 228.5v1.5M324.70 413.9v-1.5M324.70 228.5v1.5M29.5 413.70h2.6M330.5 413.70h-2.6M29.5 383.56h2.6M330.5 383.56h-2.6M29.5 353.42h2.6M330.5 353.42h-2.6M29.5 323.28h2.6M330.5 323.28h-2.6M29.5 293.14h2.6M330.5 293.14h-2.6M29.5 263.00h2.6M330.5 263.00h-2.6M29.5 232.86h2.6M330.5 232.86h-2.6M29.5 407.67h1.5M330.5 407.67h-1.5M29.5 401.64h1.5M330.5 401.64h-1.5M29.5 395.62h1.5M330.5 395.62h-1.5M29.5 389.59h1.5M330.5 389.59h-1.5M29.5 383.56h1.5M330.5 383.56h-1.5M29.5 377.53h1.5M330.5 377.53h-1.5M29.5 371.50h1.5M330.5 371.50h-1.5M29.5 365.48h1.5M330.5 365.48h-1.5M29.5 359.45h1.5M330.5 359.45h-1.5M29.5 353.42h1.5M330.5 353.42h-1.5M29.5 347.39h1.5M330.5 347.39h-1.5M29.5 341.36h1.5M330.5 341.36h-1.5M29.5 335.34h1.5M330.5 335.34h-1.5M29.5 329.31h1.5M330.5 329.31h-1.5M29.5 323.28h1.5M330.5 323.28h-1.5M29.5 317.25h1.5M330.5 317.25h-1.5M29.5 311.22h1.5M330.5 311.22h-1.5M29.5 305.20h1.5M330.5 305.20h-1.5M29.5 299.17h1.5M330.5 299.17h-1.5M29.5 293.14h1.5M330.5 293.14h-1.5M29.5 287.11h1.5M330.5 287.11h-1.5M29.5 281.08h1.5M330.5 281.08h-1.5M29.5 275.06h1.5M330.5 275.06h-1.5M29.5 269.03h1.5M330.5 269.03h-1.5M29.5 263.00h1.5M330.5 263.00h-1.5M29.5 256.97h1.5M330.5 256.97h-1.5M29.5 250.94h1.5M330.5 250.94h-1.5M29.5 244.92h1.5M330.5 244.92h-1.5M29.5 238.89h1.5M330.5 238.89h-1.5M29.5 232.86h1.5M330.5 232.86h-1.5" stroke="#838383" stroke-width="0.8" fill="none"/>
<rect x="29.5" y="228.5" width="301.0" height="185.39999999999998" fill="none" stroke="#838383" stroke-width="1"/>
<text x="67.10" y="425.70" text-anchor="middle" font-size="10.5">2</text>
<text x="131.50" y="425.70" text-anchor="middle" font-size="10.5">4</text>
<text x="195.90" y="425.70" text-anchor="middle" font-size="10.5">6</text>
<text x="260.30" y="425.70" text-anchor="middle" font-size="10.5">8</text>
<text x="324.70" y="425.70" text-anchor="middle" font-size="10.5">10</text>
<text x="27.30" y="417.50" text-anchor="end" font-size="10.5">5</text>
<rect x="15.05" y="413.60" width="6.1" height="1.15" fill="#000"/>
<text x="27.30" y="387.36" text-anchor="end" font-size="10.5">4</text>
<rect x="15.05" y="383.46" width="6.1" height="1.15" fill="#000"/>
<text x="27.30" y="357.22" text-anchor="end" font-size="10.5">3</text>
<rect x="15.05" y="353.32" width="6.1" height="1.15" fill="#000"/>
<text x="27.30" y="327.08" text-anchor="end" font-size="10.5">2</text>
<rect x="15.05" y="323.18" width="6.1" height="1.15" fill="#000"/>
<text x="27.30" y="296.94" text-anchor="end" font-size="10.5">1</text>
<rect x="15.05" y="293.04" width="6.1" height="1.15" fill="#000"/>
<text x="27.30" y="266.80" text-anchor="end" font-size="10.5">0</text>
<text x="27.30" y="236.66" text-anchor="end" font-size="10.5">1</text>
<text x="179.40" y="440.80" text-anchor="middle" font-size="10.2" font-style="italic">T<tspan dx="1.9" font-size="11" dy="0.6">/</tspan><tspan dx="0.9" dy="-0.6">K</tspan></text>
<text transform="translate(9.60,321.20) rotate(-90)" text-anchor="middle" font-size="10.4">U</text>
<text x="324.50" y="249.60" text-anchor="end" font-size="15.6">(c)</text>
<path d="M69.8 406.4 L70.0 404.8 L70.3 403.3 L70.6 401.7 L71.0 400.2 L71.3 398.6 L71.6 397.1 L72.0 395.5 L72.3 394.0 L72.7 392.4 L73.1 390.8 L73.5 389.3 L73.9 387.7 L74.4 386.2 L74.8 384.6 L75.3 383.1 L75.7 381.5 L76.2 380.0 L76.7 378.4 L77.2 376.9 L77.8 375.3 L78.3 373.8 L78.8 372.3 L79.4 370.7 L80.0 369.2 L80.6 367.7 L81.2 366.2 L81.8 364.7 L82.4 363.2 L83.1 361.7 L83.8 360.2 L84.4 358.7 L85.1 357.2 L85.8 355.8 L86.6 354.3 L87.3 352.9 L88.0 351.4 L88.8 350.0 L89.6 348.6 L90.4 347.2 L91.2 345.8 L92.0 344.4 L92.8 343.0 L93.7 341.6 L94.6 340.3 L95.4 338.9 L96.3 337.6 L97.3 336.3 L98.2 335.0 L99.1 333.7 L100.1 332.4 L101.1 331.1 L102.0 329.9 L103.0 328.6 L104.1 327.4 L105.1 326.2 L106.2 325.0 L107.2 323.8 L108.3 322.7 L109.4 321.5 L110.5 320.4 L111.6 319.3 L112.8 318.2 L113.9 317.2 L115.1 316.1 L116.3 315.1 L117.5 314.0 L118.7 313.0 L120.0 312.1 L121.2 311.1 L122.5 310.1 L123.7 309.2 L125.0 308.3 L126.3 307.4 L127.6 306.5 L129.0 305.6 L130.3 304.8 L131.6 304.0 L133.0 303.1 L134.4 302.3 L135.8 301.5 L137.1 300.8 L138.5 300.0 L139.9 299.3 L141.4 298.5 L142.8 297.8 L144.2 297.1 L145.7 296.4 L147.1 295.7 L148.6 295.1 L150.1 294.4 L151.5 293.8 L153.0 293.2 L154.5 292.6 L156.0 292.0 L157.5 291.4 L159.0 290.8 L160.5 290.3 L162.0 289.7 L163.6 289.2 L165.1 288.7 L166.6 288.2 L168.2 287.7 L169.7 287.2 L171.2 286.7 L172.8 286.2 L174.3 285.8 L175.9 285.3 L177.4 284.9 L179.0 284.5 L180.6 284.1 L182.1 283.7 L183.7 283.3 L185.2 282.9 L186.8 282.5 L188.4 282.2 L190.0 281.8 L191.5 281.5 L193.1 281.2 L194.7 280.8 L196.2 280.5 L197.8 280.2 L199.4 279.9 L201.0 279.6 L202.6 279.4 L204.1 279.1 L205.7 278.8 L207.3 278.6 L208.9 278.3 L210.5 278.1 L212.1 277.8 L213.7 277.6 L215.3 277.4 L216.9 277.2 L218.4 277.0 L220.0 276.7 L221.6 276.6 L223.2 276.4 L224.8 276.2 L226.4 276.0 L228.0 275.8 L229.6 275.7 L231.2 275.5 L232.8 275.3 L234.4 275.2 L236.0 275.0 L237.6 274.9 L239.2 274.7 L240.8 274.6 L242.4 274.5 L244.1 274.3 L245.7 274.2 L247.3 274.1 L248.9 274.0 L250.5 273.8 L252.1 273.7 L253.7 273.6 L255.3 273.5 L256.9 273.4 L258.5 273.3 L260.1 273.2 L261.7 273.1 L263.3 273.0 L264.9 272.9 L266.5 272.8 L268.1 272.7 L269.7 272.6 L271.4 272.5 L273.0 272.4 L274.6 272.3 L276.2 272.3 L277.8 272.2 L279.4 272.1 L281.0 272.0 L282.6 271.9 L284.2 271.8 L285.8 271.7 L287.4 271.6 L289.0 271.5 L290.6 271.4 L292.2 271.3 L293.8 271.2 L295.4 271.1 L297.0 271.0 L298.6 270.9 L300.2 270.8 L301.8 270.7 L303.3 270.6 L304.9 270.5 L306.5 270.4 L308.1 270.2 L309.7 270.1 L311.3 270.0 L312.9 269.9 L314.5 269.7 L316.0 269.6 L317.6 269.4 L319.2 269.3 L320.8 269.1 L322.4 269.0" fill="none" stroke="#ff0000" stroke-width="2.8" stroke-dasharray="8 7.4" stroke-linejoin="round"/>
<path d="M47.2 405.4 L47.3 404.5 L47.4 403.7 L47.5 402.8 L47.7 401.9 L47.8 401.0 L47.9 400.2 L48.0 399.3 L48.2 398.4 L48.3 397.5 L48.4 396.7 L48.6 395.8 L48.7 394.9 L48.8 394.0 L49.0 393.2 L49.1 392.3 L49.3 391.4 L49.4 390.6 L49.5 389.7 L49.7 388.8 L49.8 387.9 L50.0 387.1 L50.1 386.2 L50.3 385.3 L50.4 384.5 L50.6 383.6 L50.7 382.7 L50.9 381.8 L51.0 381.0 L51.2 380.1 L51.3 379.2 L51.5 378.4 L51.6 377.5 L51.8 376.6 L51.9 375.7 L52.1 374.9 L52.3 374.0 L52.4 373.1 L52.6 372.3 L52.8 371.4 L52.9 370.5 L53.1 369.7 L53.3 368.8 L53.4 367.9 L53.6 367.1 L53.8 366.2 L53.9 365.3 L54.1 364.5 L54.3 363.6 L54.5 362.7 L54.6 361.9 L54.8 361.0 L55.0 360.1 L55.2 359.3 L55.4 358.4 L55.6 357.5 L55.8 356.7 L55.9 355.8 L56.1 354.9 L56.3 354.1 L56.5 353.2 L56.7 352.3 L56.9 351.5 L57.1 350.6 L57.3 349.8 L57.5 348.9 L57.7 348.0 L57.9 347.2 L58.1 346.3 L58.3 345.5 L58.5 344.6 L58.7 343.7 L58.9 342.9 L59.1 342.0 L59.4 341.2 L59.6 340.3 L59.8 339.4 L60.0 338.6 L60.2 337.7 L60.4 336.9 L60.7 336.0 L60.9 335.2 L61.1 334.3 L61.3 333.5 L61.6 332.6 L61.8 331.8 L62.0 330.9 L62.3 330.1 L62.5 329.2 L62.7 328.4 L63.0 327.5 L63.2 326.7 L63.5 325.8 L63.7 325.0 L64.0 324.1 L64.2 323.3 L64.4 322.4 L64.7 321.6 L64.9 320.7 L65.2 319.9 L65.5 319.0 L65.7 318.2 L66.0 317.3 L66.2 316.5 L66.5 315.7 L66.8 314.8 L67.0 314.0 L67.3 313.1 L67.6 312.3 L67.8 311.5 L68.1 310.6 L68.4 309.8 L68.7 308.9 L68.9 308.1 L69.2 307.3 L69.5 306.4 L69.8 305.6 L70.1 304.8 L70.4 303.9 L70.6 303.1 L70.9 302.3 L71.2 301.4 L71.5 300.6 L71.8 299.8 L72.1 298.9 L72.4 298.1 L72.7 297.3 L73.0 296.4 L73.3 295.6 L73.6 294.8 L73.9 294.0 L74.2 293.1 L74.5 292.3 L74.9 291.5 L75.2 290.7 L75.5 289.8 L75.8 289.0 L76.1 288.2 L76.4 287.4 L76.7 286.5 L77.1 285.7 L77.4 284.9 L77.7 284.1 L78.0 283.2 L78.3 282.4 L78.7 281.6 L79.0 280.8 L79.3 279.9 L79.6 279.1 L79.9 278.3 L80.3 277.5 L80.6 276.7 L80.9 275.8 L81.2 275.0 L81.5 274.2 L81.8 273.4 L82.2 272.5 L82.5 271.7 L82.8 270.9 L83.1 270.0 L83.4 269.2 L83.7 268.4 L84.0 267.6 L84.3 266.7 L84.6 265.9 L84.9 265.1 L85.2 264.2 L85.5 263.4 L85.8 262.6 L86.1 261.7 L86.4 260.9 L86.7 260.1 L86.9 259.2 L87.2 258.4 L87.5 257.6 L87.8 256.7 L88.1 255.9 L88.4 255.1 L88.7 254.2 L89.0 253.4 L89.3 252.6 L89.6 251.8 L89.9 250.9 L90.3 250.1 L90.6 249.3 L90.9 248.5 L91.2 247.7 L91.5 246.9 L91.9 246.1 L92.2 245.2 L92.6 244.4 L92.9 243.6 L93.3 242.8 L93.6 242.1 L94.0 241.3 L94.4 240.5 L94.8 239.7 L95.2 238.9 L95.6 238.1 L96.0 237.4" fill="none" stroke="#0000ff" stroke-width="2.8" stroke-dasharray="1.5 1.8" stroke-linejoin="round"/>
<path d="M96.7 237.3 L97.0 237.8 L97.2 238.3 L97.4 238.8 L97.7 239.3 L97.9 239.7 L98.1 240.2 L98.4 240.7 L98.6 241.2 L98.8 241.7 L99.0 242.2 L99.2 242.7 L99.4 243.2 L99.6 243.7 L99.8 244.2 L99.9 244.7 L100.1 245.2 L100.3 245.7 L100.4 246.2 L100.6 246.7 L100.7 247.2 L100.9 247.8 L101.0 248.3 L101.2 248.8 L101.3 249.3 L101.5 249.8 L101.6 250.3 L101.7 250.9 L101.8 251.4 L101.9 251.9 L102.1 252.4 L102.2 253.0 L102.3 253.5 L102.4 254.0 L102.5 254.5 L102.6 255.1 L102.7 255.6 L102.8 256.1 L102.8 256.7 L102.9 257.2 L103.0 257.7 L103.1 258.3 L103.2 258.8 L103.2 259.3 L103.3 259.9 L103.4 260.4 L103.5 260.9 L103.5 261.5 L103.6 262.0 L103.7 262.6 L103.7 263.1 L103.8 263.6 L103.8 264.2 L103.9 264.7 L104.0 265.3 L104.0 265.8 L104.1 266.3 L104.1 266.9 L104.2 267.4 L104.2 268.0 L104.3 268.5 L104.3 269.1 L104.4 269.6 L104.4 270.1 L104.4 270.7 L104.5 271.2 L104.5 271.8 L104.6 272.3 L104.6 272.9 L104.6 273.4 L104.7 274.0 L104.7 274.5 L104.8 275.1 L104.8 275.6 L104.8 276.1 L104.9 276.7 L104.9 277.2 L104.9 277.8 L105.0 278.3 L105.0 278.9 L105.0 279.4 L105.1 280.0 L105.1 280.5 L105.1 281.1 L105.1 281.6 L105.2 282.2 L105.2 282.7 L105.2 283.3 L105.3 283.8 L105.3 284.4 L105.3 284.9 L105.4 285.4 L105.4 286.0 L105.4 286.5 L105.4 287.1 L105.5 287.6 L105.5 288.2 L105.5 288.7 L105.6 289.3 L105.6 289.8 L105.6 290.4 L105.6 290.9 L105.7 291.5 L105.7 292.0 L105.7 292.6 L105.8 293.1 L105.8 293.7 L105.8 294.2 L105.9 294.7 L105.9 295.3 L105.9 295.8 L106.0 296.4 L106.0 296.9 L106.0 297.5 L106.1 298.0 L106.1 298.6 L106.1 299.1 L106.2 299.7 L106.2 300.2 L106.2 300.7 L106.3 301.3 L106.3 301.8 L106.4 302.4 L106.4 302.9 L106.4 303.5 L106.5 304.0 L106.5 304.5 L106.6 305.1 L106.6 305.6 L106.7 306.2 L106.7 306.7 L106.8 307.3 L106.8 307.8 L106.9 308.3 L106.9 308.9 L107.0 309.4 L107.0 310.0 L107.1 310.5 L107.1 311.0 L107.2 311.6 L107.2 312.1 L107.3 312.7 L107.3 313.2 L107.4 313.7 L107.5 314.3 L107.5 314.8 L107.6 315.4 L107.6 315.9 L107.7 316.4 L107.8 317.0 L107.8 317.5 L107.9 318.0 L108.0 318.6 L108.0 319.1 L108.1 319.7 L108.2 320.2 L108.2 320.7 L108.3 321.3 L108.4 321.8 L108.4 322.3 L108.5 322.9 L108.6 323.4 L108.7 324.0 L108.7 324.5 L108.8 325.0 L108.9 325.6 L109.0 326.1 L109.1 326.6 L109.1 327.2 L109.2 327.7 L109.3 328.2 L109.4 328.8 L109.5 329.3 L109.6 329.9 L109.7 330.4 L109.8 330.9 L109.8 331.5 L109.9 332.0 L110.0 332.5 L110.1 333.1 L110.2 333.6 L110.3 334.1 L110.4 334.7 L110.5 335.2 L110.6 335.7 L110.7 336.3 L110.8 336.8 L110.9 337.3 L111.0 337.9 L111.2 338.4 L111.3 338.9 L111.4 339.5 L111.5 340.0 L111.6 340.5 L111.7 341.1 L111.8 341.6 L111.9 342.1 L112.1 342.7 L112.2 343.2 L112.3 343.7" fill="none" stroke="#0000ff" stroke-width="2.8" stroke-dasharray="1.5 1.8" stroke-linejoin="round"/>
<path d="M112.4 343.8 L112.9 342.7 L113.3 341.6 L113.8 340.5 L114.3 339.4 L114.8 338.3 L115.2 337.2 L115.7 336.1 L116.2 335.0 L116.8 333.9 L117.3 332.8 L117.8 331.6 L118.3 330.5 L118.9 329.4 L119.4 328.3 L120.0 327.2 L120.6 326.1 L121.2 325.0 L121.7 324.0 L122.3 322.9 L123.0 321.8 L123.6 320.7 L124.2 319.7 L124.9 318.6 L125.5 317.6 L126.2 316.5 L126.9 315.5 L127.6 314.5 L128.3 313.5 L129.0 312.5 L129.7 311.5 L130.5 310.6 L131.2 309.6 L132.0 308.7 L132.8 307.7 L133.6 306.8 L134.4 305.9 L135.3 305.0 L136.1 304.2 L137.0 303.3 L137.8 302.5 L138.7 301.7 L139.6 300.9 L140.6 300.1 L141.5 299.3 L142.4 298.6 L143.4 297.8 L144.3 297.1 L145.3 296.4 L146.3 295.7 L147.3 295.1 L148.3 294.4 L149.3 293.8 L150.3 293.1 L151.4 292.5 L152.4 291.9 L153.4 291.4 L154.5 290.8 L155.6 290.3 L156.6 289.7 L157.7 289.2 L158.8 288.7 L159.9 288.2 L161.0 287.7 L162.1 287.3 L163.2 286.8 L164.3 286.4 L165.5 286.0 L166.6 285.6 L167.7 285.2 L168.9 284.8 L170.0 284.4 L171.2 284.0 L172.3 283.7 L173.5 283.3 L174.7 283.0 L175.9 282.7 L177.0 282.4 L178.2 282.0 L179.4 281.7 L180.6 281.5 L181.8 281.2 L183.0 280.9 L184.2 280.6 L185.4 280.4 L186.6 280.1 L187.8 279.9 L189.0 279.6 L190.2 279.4 L191.4 279.2 L192.6 279.0 L193.9 278.7 L195.1 278.5 L196.3 278.3 L197.5 278.1 L198.7 277.9 L200.0 277.7 L201.2 277.6 L202.4 277.4 L203.6 277.2 L204.8 277.0 L206.1 276.8 L207.3 276.7 L208.5 276.5 L209.7 276.3 L210.9 276.1 L212.2 276.0 L213.4 275.8 L214.6 275.6 L215.8 275.5 L217.0 275.3 L218.2 275.2 L219.4 275.0 L220.7 274.9 L221.9 274.7 L223.1 274.6 L224.3 274.4 L225.5 274.3 L226.7 274.1 L227.9 274.0 L229.1 273.8 L230.3 273.7 L231.6 273.6 L232.8 273.4 L234.0 273.3 L235.2 273.2 L236.4 273.0 L237.6 272.9 L238.8 272.8 L240.0 272.7 L241.2 272.5 L242.4 272.4 L243.6 272.3 L244.8 272.2 L246.0 272.1 L247.2 271.9 L248.4 271.8 L249.6 271.7 L250.9 271.6 L252.1 271.5 L253.3 271.4 L254.5 271.3 L255.7 271.2 L256.9 271.1 L258.1 271.0 L259.3 270.9 L260.5 270.8 L261.7 270.7 L262.9 270.6 L264.1 270.5 L265.3 270.4 L266.5 270.4 L267.7 270.3 L268.9 270.2 L270.1 270.1 L271.3 270.0 L272.6 269.9 L273.8 269.9 L275.0 269.8 L276.2 269.7 L277.4 269.6 L278.6 269.6 L279.8 269.5 L281.0 269.4 L282.2 269.4 L283.4 269.3 L284.6 269.2 L285.9 269.2 L287.1 269.1 L288.3 269.1 L289.5 269.0 L290.7 268.9 L291.9 268.9 L293.1 268.8 L294.3 268.8 L295.6 268.7 L296.8 268.7 L298.0 268.6 L299.2 268.6 L300.4 268.5 L301.7 268.5 L302.9 268.5 L304.1 268.4 L305.3 268.4 L306.5 268.3 L307.8 268.3 L309.0 268.3 L310.2 268.2 L311.4 268.2 L312.7 268.2 L313.9 268.1 L315.1 268.1 L316.4 268.1 L317.6 268.1 L318.8 268.0 L320.1 268.0 L321.3 268.0 L322.5 268.0 L323.8 267.9 L325.0 267.9" fill="none" stroke="#0000ff" stroke-width="2.8" stroke-dasharray="1.5 1.8" stroke-linejoin="round"/>
<path d="M47.2 405.4 L47.3 404.2 L47.5 403.0 L47.7 401.8 L47.8 400.6 L48.0 399.4 L48.2 398.1 L48.4 396.9 L48.5 395.7 L48.7 394.5 L48.9 393.3 L49.1 392.1 L49.3 390.9 L49.5 389.7 L49.7 388.5 L49.9 387.3 L50.1 386.1 L50.3 384.8 L50.5 383.6 L50.7 382.4 L50.9 381.2 L51.1 380.0 L51.3 378.8 L51.5 377.6 L51.8 376.4 L52.0 375.2 L52.2 374.0 L52.4 372.8 L52.7 371.6 L52.9 370.4 L53.1 369.2 L53.4 368.0 L53.6 366.8 L53.9 365.6 L54.1 364.4 L54.4 363.2 L54.6 362.0 L54.9 360.8 L55.1 359.6 L55.4 358.4 L55.7 357.2 L55.9 356.0 L56.2 354.8 L56.5 353.6 L56.7 352.4 L57.0 351.2 L57.3 350.0 L57.6 348.8 L57.9 347.6 L58.1 346.4 L58.4 345.3 L58.7 344.1 L59.0 342.9 L59.3 341.7 L59.6 340.5 L59.9 339.3 L60.2 338.1 L60.5 336.9 L60.8 335.8 L61.1 334.6 L61.5 333.4 L61.8 332.2 L62.1 331.0 L62.4 329.9 L62.7 328.7 L63.1 327.5 L63.4 326.3 L63.7 325.1 L64.1 324.0 L64.4 322.8 L64.7 321.6 L65.1 320.5 L65.4 319.3 L65.8 318.1 L66.1 316.9 L66.5 315.8 L66.8 314.6 L67.2 313.4 L67.6 312.3 L67.9 311.1 L68.3 310.0 L68.7 308.8 L69.1 307.6 L69.4 306.5 L69.8 305.3 L70.2 304.2 L70.6 303.0 L71.0 301.8 L71.4 300.7 L71.8 299.5 L72.2 298.4 L72.6 297.2 L73.0 296.1 L73.4 294.9 L73.8 293.8 L74.2 292.6 L74.7 291.5 L75.1 290.4 L75.5 289.2 L76.0 288.1 L76.4 286.9 L76.8 285.8 L77.3 284.6 L77.7 283.5 L78.2 282.4 L78.6 281.2 L79.1 280.1 L79.6 279.0 L80.0 277.8 L80.5 276.7 L81.0 275.6 L81.5 274.4 L82.0 273.3 L82.4 272.2 L82.9 271.1 L83.4 269.9 L83.9 268.8 L84.4 267.7 L85.0 266.6 L85.5 265.4 L86.0 264.3 L86.5 263.2 L87.1 262.1 L87.7 261.0 L88.3 259.9 L88.9 258.8 L89.6 257.7 L90.3 256.6 L91.0 255.5 L91.7 254.4 L92.5 253.5 L93.3 252.6 L94.2 252.0 L95.1 251.5 L96.0 251.3 L96.9 251.5 L97.8 251.8 L98.6 252.4 L99.5 253.2 L100.2 254.1 L100.9 255.0 L101.4 256.1 L101.9 257.2 L102.4 258.4 L102.7 259.7 L103.1 260.9 L103.4 262.2 L103.7 263.4 L104.0 264.7 L104.2 266.0 L104.5 267.2 L104.7 268.5 L104.9 269.7 L105.2 271.0 L105.4 272.2 L105.6 273.5 L105.8 274.7 L106.0 275.9 L106.1 277.2 L106.3 278.4 L106.5 279.6 L106.6 280.8 L106.8 282.1 L107.0 283.3 L107.1 284.5 L107.3 285.7 L107.4 286.9 L107.6 288.1 L107.7 289.3 L107.9 290.5 L108.0 291.7 L108.2 292.9 L108.3 294.1 L108.5 295.3 L108.6 296.5 L108.8 297.7 L109.0 298.9 L109.1 300.1 L109.3 301.3 L109.5 302.4 L109.7 303.6 L109.9 304.8 L110.1 306.0 L110.3 307.2 L110.6 308.4 L110.8 309.5 L111.1 310.7 L111.3 311.9 L111.6 313.1 L111.9 314.3 L112.2 315.4 L112.5 316.6 L112.9 317.8 L113.2 319.0 L113.6 320.2 L114.0 321.3 L114.4 322.5 L114.8 323.7 L115.2 324.9 L115.7 326.1" fill="none" stroke="#000000" stroke-width="2.8" stroke-dasharray="8 7.4" stroke-linejoin="round"/>
<path d="M116.2 326.3 L117.2 325.9 L118.1 325.4 L119.0 324.9 L119.9 324.3 L120.7 323.6 L121.6 322.9 L122.4 322.2 L123.2 321.5 L123.9 320.7 L124.7 319.9 L125.4 319.0 L126.2 318.2 L126.9 317.3 L127.6 316.4 L128.3 315.5 L129.0 314.6 L129.7 313.7 L130.4 312.8 L131.1 311.8 L131.8 310.9 L132.5 310.0 L133.2 309.1 L133.9 308.1 L134.6 307.2 L135.3 306.3 L136.0 305.4 L136.8 304.5 L137.5 303.6 L138.2 302.7 L139.0 301.9 L139.7 301.0 L140.5 300.2 L141.3 299.4 L142.1 298.6 L142.9 297.8 L143.7 297.0 L144.6 296.3 L145.5 295.6 L146.3 294.9 L147.2 294.3 L148.2 293.7 L149.1 293.1 L150.1 292.5 L151.1 292.0 L152.1 291.5 L153.1 291.0 L154.1 290.5 L155.1 290.1 L156.2 289.6 L157.2 289.2 L158.3 288.8 L159.4 288.4 L160.4 288.0 L161.5 287.6 L162.6 287.3 L163.7 286.9 L164.8 286.5 L165.9 286.1 L167.0 285.8 L168.1 285.4 L169.2 285.1 L170.3 284.7 L171.4 284.4 L172.5 284.0 L173.5 283.7 L174.6 283.4 L175.7 283.0 L176.9 282.7 L178.0 282.4 L179.1 282.1 L180.2 281.8 L181.3 281.5 L182.4 281.3 L183.5 281.0 L184.6 280.7 L185.7 280.5 L186.8 280.2 L187.9 280.0 L189.0 279.8 L190.2 279.5 L191.3 279.3 L192.4 279.1 L193.5 278.9 L194.6 278.7 L195.7 278.5 L196.8 278.3 L198.0 278.1 L199.1 277.9 L200.2 277.7 L201.3 277.5 L202.4 277.4 L203.6 277.2 L204.7 277.0 L205.8 276.8 L206.9 276.7 L208.1 276.5 L209.2 276.3 L210.3 276.2 L211.4 276.0 L212.6 275.9 L213.7 275.7 L214.8 275.5 L215.9 275.4 L217.1 275.2 L218.2 275.1 L219.3 274.9 L220.4 274.8 L221.6 274.7 L222.7 274.5 L223.8 274.4 L225.0 274.2 L226.1 274.1 L227.2 274.0 L228.3 273.8 L229.5 273.7 L230.6 273.6 L231.7 273.5 L232.9 273.3 L234.0 273.2 L235.1 273.1 L236.3 273.0 L237.4 272.8 L238.5 272.7 L239.7 272.6 L240.8 272.5 L241.9 272.4 L243.1 272.3 L244.2 272.2 L245.3 272.1 L246.5 272.0 L247.6 271.9 L248.7 271.8 L249.9 271.7 L251.0 271.6 L252.1 271.5 L253.3 271.4 L254.4 271.3 L255.5 271.2 L256.7 271.1 L257.8 271.0 L258.9 270.9 L260.1 270.8 L261.2 270.7 L262.4 270.7 L263.5 270.6 L264.6 270.5 L265.8 270.4 L266.9 270.3 L268.0 270.3 L269.2 270.2 L270.3 270.1 L271.4 270.0 L272.6 270.0 L273.7 269.9 L274.9 269.8 L276.0 269.8 L277.1 269.7 L278.3 269.6 L279.4 269.6 L280.5 269.5 L281.7 269.4 L282.8 269.4 L284.0 269.3 L285.1 269.3 L286.2 269.2 L287.4 269.1 L288.5 269.1 L289.7 269.0 L290.8 269.0 L291.9 268.9 L293.1 268.9 L294.2 268.8 L295.3 268.8 L296.5 268.7 L297.6 268.7 L298.8 268.7 L299.9 268.6 L301.0 268.6 L302.2 268.5 L303.3 268.5 L304.4 268.4 L305.6 268.4 L306.7 268.4 L307.8 268.3 L309.0 268.3 L310.1 268.3 L311.3 268.2 L312.4 268.2 L313.5 268.2 L314.7 268.1 L315.8 268.1 L316.9 268.1 L318.1 268.0 L319.2 268.0 L320.3 268.0 L321.5 268.0 L322.6 267.9 L323.7 267.9 L324.9 267.9" fill="none" stroke="#000000" stroke-width="2.8" stroke-dasharray="8 7.4" stroke-linejoin="round"/>
<path d="M208.10 348.20h8.5M224.60 348.20h7.5" stroke="#ff0000" stroke-width="2.8"/>
<path d="M208.10 384.30h8.5M224.60 384.30h7.5" stroke="#000000" stroke-width="2.8"/>
<path d="M208.10 366.10h27" stroke="#0000ff" stroke-width="2.8" stroke-dasharray="1.5 1.8"/>
<text x="240.70" y="352.10" font-size="10.8">q = 0</text>
<text x="240.70" y="370.00" font-size="10.8">q = 0.5</text>
<text x="240.70" y="388.20" font-size="10.8">q = 1</text>
<path d="M387.00 408.5v-2.6M387.00 225.5v2.6M444.30 408.5v-2.6M444.30 225.5v2.6M501.60 408.5v-2.6M501.60 225.5v2.6M558.90 408.5v-2.6M558.90 225.5v2.6M616.20 408.5v-2.6M616.20 225.5v2.6M673.50 408.5v-2.6M673.50 225.5v2.6M387.00 408.5v-1.5M387.00 225.5v1.5M401.32 408.5v-1.5M401.32 225.5v1.5M415.65 408.5v-1.5M415.65 225.5v1.5M429.98 408.5v-1.5M429.98 225.5v1.5M444.30 408.5v-1.5M444.30 225.5v1.5M458.62 408.5v-1.5M458.62 225.5v1.5M472.95 408.5v-1.5M472.95 225.5v1.5M487.27 408.5v-1.5M487.27 225.5v1.5M501.60 408.5v-1.5M501.60 225.5v1.5M515.92 408.5v-1.5M515.92 225.5v1.5M530.25 408.5v-1.5M530.25 225.5v1.5M544.58 408.5v-1.5M544.58 225.5v1.5M558.90 408.5v-1.5M558.90 225.5v1.5M573.23 408.5v-1.5M573.23 225.5v1.5M587.55 408.5v-1.5M587.55 225.5v1.5M601.88 408.5v-1.5M601.88 225.5v1.5M616.20 408.5v-1.5M616.20 225.5v1.5M630.52 408.5v-1.5M630.52 225.5v1.5M644.85 408.5v-1.5M644.85 225.5v1.5M659.17 408.5v-1.5M659.17 225.5v1.5M673.50 408.5v-1.5M673.50 225.5v1.5M381.5 398.60h2.6M679.5 398.60h-2.6M381.5 369.20h2.6M679.5 369.20h-2.6M381.5 339.80h2.6M679.5 339.80h-2.6M381.5 310.40h2.6M679.5 310.40h-2.6M381.5 281.00h2.6M679.5 281.00h-2.6M381.5 251.60h2.6M679.5 251.60h-2.6M381.5 405.95h1.5M679.5 405.95h-1.5M381.5 398.60h1.5M679.5 398.60h-1.5M381.5 391.25h1.5M679.5 391.25h-1.5M381.5 383.90h1.5M679.5 383.90h-1.5M381.5 376.55h1.5M679.5 376.55h-1.5M381.5 369.20h1.5M679.5 369.20h-1.5M381.5 361.85h1.5M679.5 361.85h-1.5M381.5 354.50h1.5M679.5 354.50h-1.5M381.5 347.15h1.5M679.5 347.15h-1.5M381.5 339.80h1.5M679.5 339.80h-1.5M381.5 332.45h1.5M679.5 332.45h-1.5M381.5 325.10h1.5M679.5 325.10h-1.5M381.5 317.75h1.5M679.5 317.75h-1.5M381.5 310.40h1.5M679.5 310.40h-1.5M381.5 303.05h1.5M679.5 303.05h-1.5M381.5 295.70h1.5M679.5 295.70h-1.5M381.5 288.35h1.5M679.5 288.35h-1.5M381.5 281.00h1.5M679.5 281.00h-1.5M381.5 273.65h1.5M679.5 273.65h-1.5M381.5 266.30h1.5M679.5 266.30h-1.5M381.5 258.95h1.5M679.5 258.95h-1.5M381.5 251.60h1.5M679.5 251.60h-1.5M381.5 244.25h1.5M679.5 244.25h-1.5M381.5 236.90h1.5M679.5 236.90h-1.5M381.5 229.55h1.5M679.5 229.55h-1.5" stroke="#838383" stroke-width="0.8" fill="none"/>
<rect x="381.5" y="225.5" width="298.0" height="183.0" fill="none" stroke="#838383" stroke-width="1"/>
<text x="387.00" y="420.30" text-anchor="middle" font-size="10.5">0</text>
<text x="444.30" y="420.30" text-anchor="middle" font-size="10.5">200</text>
<text x="501.60" y="420.30" text-anchor="middle" font-size="10.5">400</text>
<text x="558.90" y="420.30" text-anchor="middle" font-size="10.5">600</text>
<text x="616.20" y="420.30" text-anchor="middle" font-size="10.5">800</text>
<text x="673.50" y="420.30" text-anchor="middle" font-size="10.5">1000</text>
<text x="379.30" y="402.40" text-anchor="end" font-size="10.5">2.4</text>
<text x="379.30" y="373.00" text-anchor="end" font-size="10.5">2.6</text>
<text x="379.30" y="343.60" text-anchor="end" font-size="10.5">2.8</text>
<text x="379.30" y="314.20" text-anchor="end" font-size="10.5">3.0</text>
<text x="379.30" y="284.80" text-anchor="end" font-size="10.5">3.2</text>
<text x="379.30" y="255.40" text-anchor="end" font-size="10.5">3.4</text>
<text x="529.90" y="435.40" text-anchor="middle" font-size="10.2" font-style="italic">T<tspan dx="1.9" font-size="11" dy="0.6">/</tspan><tspan dx="0.9" dy="-0.6">K</tspan></text>
<text transform="translate(360.60,317.00) rotate(-90)" text-anchor="middle" font-size="10.9" font-style="italic">S</text>
<text x="673.10" y="291.20" text-anchor="end" font-size="15.6">(d)</text>
<path d="M398.8 400.2 L398.7 398.5 L398.7 396.8 L398.7 395.1 L398.8 393.4 L398.8 391.7 L398.9 390.1 L399.1 388.4 L399.2 386.7 L399.4 385.0 L399.6 383.3 L399.8 381.6 L400.1 380.0 L400.4 378.3 L400.7 376.6 L401.0 375.0 L401.4 373.3 L401.8 371.7 L402.2 370.1 L402.7 368.5 L403.1 366.8 L403.6 365.2 L404.2 363.7 L404.7 362.1 L405.3 360.5 L405.9 359.0 L406.5 357.4 L407.2 355.9 L407.9 354.4 L408.6 352.9 L409.3 351.4 L410.1 349.9 L410.9 348.5 L411.7 347.1 L412.5 345.7 L413.4 344.3 L414.3 342.9 L415.2 341.5 L416.1 340.2 L417.1 338.9 L418.1 337.6 L419.1 336.3 L420.1 335.1 L421.2 333.9 L422.3 332.7 L423.4 331.5 L424.5 330.3 L425.7 329.2 L426.9 328.1 L428.1 327.0 L429.3 326.0 L430.6 325.0 L431.9 324.0 L433.2 323.0 L434.5 322.1 L435.8 321.2 L437.2 320.3 L438.6 319.4 L440.0 318.5 L441.4 317.7 L442.8 316.9 L444.2 316.1 L445.7 315.3 L447.2 314.6 L448.6 313.8 L450.1 313.1 L451.6 312.4 L453.2 311.7 L454.7 311.1 L456.2 310.4 L457.8 309.8 L459.3 309.2 L460.9 308.6 L462.4 308.0 L464.0 307.4 L465.6 306.8 L467.2 306.3 L468.7 305.7 L470.3 305.2 L471.9 304.7 L473.5 304.1 L475.1 303.6 L476.7 303.1 L478.3 302.7 L479.9 302.2 L481.5 301.7 L483.1 301.3 L484.7 300.8 L486.3 300.4 L487.9 299.9 L489.5 299.5 L491.1 299.1 L492.7 298.6 L494.4 298.2 L496.0 297.8 L497.6 297.4 L499.2 297.0 L500.8 296.6 L502.4 296.2 L504.1 295.8 L505.7 295.4 L507.3 295.1 L508.9 294.7 L510.5 294.3 L512.2 293.9 L513.8 293.5 L515.4 293.2 L517.0 292.8 L518.6 292.4 L520.3 292.1 L521.9 291.7 L523.5 291.3 L525.1 290.9 L526.7 290.6 L528.4 290.2 L530.0 289.9 L531.6 289.5 L533.2 289.1 L534.8 288.8 L536.5 288.4 L538.1 288.1 L539.7 287.7 L541.3 287.4 L542.9 287.0 L544.5 286.7 L546.2 286.3 L547.8 286.0 L549.4 285.6 L551.0 285.3 L552.6 284.9 L554.3 284.6 L555.9 284.3 L557.5 283.9 L559.1 283.6 L560.7 283.3 L562.4 282.9 L564.0 282.6 L565.6 282.3 L567.2 281.9 L568.8 281.6 L570.5 281.3 L572.1 281.0 L573.7 280.7 L575.3 280.4 L576.9 280.0 L578.6 279.7 L580.2 279.4 L581.8 279.1 L583.4 278.8 L585.1 278.5 L586.7 278.2 L588.3 277.9 L589.9 277.6 L591.6 277.3 L593.2 277.0 L594.8 276.7 L596.4 276.4 L598.1 276.2 L599.7 275.9 L601.3 275.6 L603.0 275.3 L604.6 275.0 L606.2 274.8 L607.8 274.5 L609.5 274.2 L611.1 274.0 L612.7 273.7 L614.4 273.4 L616.0 273.2 L617.6 272.9 L619.3 272.7 L620.9 272.4 L622.6 272.2 L624.2 271.9 L625.8 271.7 L627.5 271.4 L629.1 271.2 L630.8 271.0 L632.4 270.7 L634.0 270.5 L635.7 270.3 L637.3 270.0 L639.0 269.8 L640.6 269.6 L642.3 269.4 L643.9 269.2 L645.6 269.0 L647.2 268.7 L648.9 268.5 L650.5 268.3 L652.2 268.1 L653.8 267.9 L655.5 267.7 L657.1 267.6 L658.8 267.4 L660.4 267.2 L662.1 267.0 L663.8 266.8 L665.4 266.6 L667.1 266.5" fill="none" stroke="#ff0000" stroke-width="2.8" stroke-dasharray="8 7.4" stroke-linejoin="round"/>
<path d="M396.3 400.1 L396.5 398.4 L396.8 396.8 L397.0 395.1 L397.3 393.4 L397.5 391.7 L397.8 390.0 L398.0 388.3 L398.3 386.5 L398.6 384.8 L398.9 383.1 L399.2 381.4 L399.5 379.6 L399.8 377.9 L400.1 376.2 L400.4 374.4 L400.8 372.7 L401.1 371.0 L401.5 369.2 L401.9 367.5 L402.3 365.8 L402.8 364.1 L403.2 362.3 L403.7 360.6 L404.2 358.9 L404.7 357.2 L405.2 355.5 L405.8 353.9 L406.3 352.2 L406.9 350.5 L407.6 348.9 L408.2 347.2 L408.9 345.6 L409.6 344.0 L410.4 342.3 L411.1 340.8 L411.9 339.2 L412.7 337.6 L413.6 336.1 L414.4 334.6 L415.4 333.1 L416.3 331.6 L417.2 330.1 L418.2 328.7 L419.3 327.3 L420.3 325.9 L421.4 324.5 L422.5 323.2 L423.6 321.9 L424.8 320.6 L426.0 319.4 L427.2 318.2 L428.5 317.0 L429.8 315.8 L431.1 314.7 L432.4 313.6 L433.7 312.5 L435.1 311.4 L436.5 310.4 L437.9 309.4 L439.3 308.4 L440.7 307.5 L442.2 306.6 L443.6 305.7 L445.1 304.8 L446.6 304.0 L448.1 303.1 L449.6 302.3 L451.2 301.6 L452.7 300.8 L454.3 300.1 L455.8 299.3 L457.4 298.6 L459.0 298.0 L460.6 297.3 L462.2 296.6 L463.8 296.0 L465.5 295.4 L467.1 294.8 L468.8 294.2 L470.4 293.7 L472.1 293.1 L473.7 292.6 L475.4 292.0 L477.1 291.5 L478.8 291.0 L480.5 290.5 L482.2 290.0 L483.9 289.5 L485.6 289.1 L487.3 288.6 L489.0 288.1 L490.7 287.7 L492.5 287.3 L494.2 286.8 L495.9 286.4 L497.6 286.0 L499.4 285.5 L501.1 285.1 L502.8 284.7 L504.5 284.3 L506.3 283.8 L508.0 283.4 L509.7 283.0 L511.4 282.6 L513.1 282.2 L514.9 281.8 L516.6 281.3 L518.3 280.9 L520.0 280.5 L521.7 280.1 L523.4 279.7 L525.1 279.3 L526.8 278.9 L528.5 278.5 L530.2 278.0 L532.0 277.6 L533.7 277.2 L535.4 276.8 L537.1 276.4 L538.8 276.0 L540.5 275.6 L542.2 275.2 L543.9 274.8 L545.6 274.4 L547.3 274.0 L549.0 273.6 L550.7 273.2 L552.4 272.8 L554.1 272.4 L555.8 272.0 L557.4 271.6 L559.1 271.2 L560.8 270.8 L562.5 270.4 L564.2 270.0 L565.9 269.6 L567.6 269.2 L569.3 268.9 L571.0 268.5 L572.7 268.1 L574.4 267.7 L576.1 267.3 L577.8 266.9 L579.5 266.6 L581.2 266.2 L582.9 265.8 L584.6 265.4 L586.3 265.1 L588.0 264.7 L589.7 264.3 L591.4 264.0 L593.1 263.6 L594.8 263.3 L596.5 262.9 L598.2 262.5 L599.9 262.2 L601.6 261.8 L603.3 261.5 L605.0 261.1 L606.7 260.8 L608.4 260.4 L610.1 260.1 L611.8 259.8 L613.5 259.4 L615.2 259.1 L616.9 258.8 L618.6 258.4 L620.3 258.1 L622.0 257.8 L623.8 257.4 L625.5 257.1 L627.2 256.8 L628.9 256.5 L630.6 256.2 L632.3 255.9 L634.1 255.6 L635.8 255.2 L637.5 254.9 L639.2 254.6 L641.0 254.3 L642.7 254.0 L644.4 253.8 L646.2 253.5 L647.9 253.2 L649.6 252.9 L651.4 252.6 L653.1 252.3 L654.8 252.1 L656.6 251.8 L658.3 251.5 L660.1 251.3 L661.8 251.0 L663.6 250.7 L665.3 250.5 L667.1 250.2 L668.9 250.0 L670.6 249.7 L672.4 249.5 L674.1 249.3" fill="none" stroke="#0000ff" stroke-width="2.8" stroke-dasharray="1.5 1.8" stroke-linejoin="round"/>
<path d="M396.6 399.9 L396.8 398.2 L397.0 396.5 L397.2 394.7 L397.4 392.9 L397.5 391.1 L397.7 389.4 L397.9 387.6 L398.0 385.8 L398.2 384.0 L398.4 382.2 L398.5 380.4 L398.7 378.5 L398.9 376.7 L399.1 374.9 L399.3 373.1 L399.5 371.3 L399.7 369.5 L400.0 367.7 L400.2 365.9 L400.5 364.1 L400.8 362.3 L401.1 360.5 L401.5 358.7 L401.9 356.9 L402.3 355.2 L402.8 353.4 L403.2 351.6 L403.8 349.9 L404.3 348.2 L404.9 346.5 L405.6 344.8 L406.2 343.1 L406.9 341.4 L407.7 339.7 L408.4 338.1 L409.2 336.5 L410.1 334.8 L410.9 333.2 L411.8 331.7 L412.7 330.1 L413.7 328.6 L414.7 327.0 L415.7 325.5 L416.7 324.0 L417.8 322.6 L418.8 321.1 L420.0 319.7 L421.1 318.3 L422.3 316.9 L423.4 315.6 L424.6 314.3 L425.9 313.0 L427.1 311.7 L428.4 310.5 L429.7 309.2 L431.0 308.0 L432.3 306.9 L433.7 305.7 L435.0 304.6 L436.4 303.5 L437.8 302.4 L439.2 301.4 L440.7 300.4 L442.1 299.4 L443.6 298.4 L445.1 297.4 L446.6 296.5 L448.1 295.5 L449.6 294.6 L451.2 293.8 L452.7 292.9 L454.3 292.0 L455.9 291.2 L457.5 290.4 L459.1 289.6 L460.7 288.8 L462.3 288.1 L463.9 287.3 L465.6 286.6 L467.2 285.9 L468.9 285.2 L470.6 284.5 L472.3 283.8 L474.0 283.1 L475.7 282.5 L477.4 281.8 L479.1 281.2 L480.8 280.6 L482.5 280.0 L484.2 279.4 L486.0 278.8 L487.7 278.2 L489.4 277.6 L491.2 277.0 L492.9 276.5 L494.7 275.9 L496.4 275.4 L498.2 274.8 L499.9 274.3 L501.7 273.8 L503.4 273.2 L505.2 272.7 L507.0 272.2 L508.7 271.7 L510.5 271.2 L512.2 270.6 L514.0 270.1 L515.7 269.6 L517.5 269.1 L519.2 268.6 L521.0 268.1 L522.7 267.6 L524.5 267.1 L526.2 266.6 L528.0 266.2 L529.7 265.7 L531.5 265.2 L533.2 264.7 L534.9 264.2 L536.7 263.7 L538.4 263.3 L540.2 262.8 L541.9 262.3 L543.7 261.9 L545.4 261.4 L547.1 260.9 L548.9 260.5 L550.6 260.0 L552.4 259.6 L554.1 259.1 L555.8 258.7 L557.6 258.2 L559.3 257.8 L561.1 257.3 L562.8 256.9 L564.5 256.5 L566.3 256.0 L568.0 255.6 L569.8 255.2 L571.5 254.7 L573.2 254.3 L575.0 253.9 L576.7 253.5 L578.5 253.1 L580.2 252.6 L582.0 252.2 L583.7 251.8 L585.4 251.4 L587.2 251.0 L588.9 250.6 L590.7 250.2 L592.4 249.8 L594.2 249.4 L595.9 249.0 L597.7 248.6 L599.4 248.3 L601.2 247.9 L602.9 247.5 L604.7 247.1 L606.4 246.7 L608.2 246.4 L609.9 246.0 L611.7 245.6 L613.5 245.2 L615.2 244.9 L617.0 244.5 L618.7 244.1 L620.5 243.8 L622.3 243.4 L624.0 243.1 L625.8 242.7 L627.6 242.4 L629.3 242.0 L631.1 241.7 L632.9 241.3 L634.6 241.0 L636.4 240.7 L638.2 240.3 L640.0 240.0 L641.7 239.7 L643.5 239.3 L645.3 239.0 L647.1 238.7 L648.9 238.4 L650.7 238.0 L652.5 237.7 L654.2 237.4 L656.0 237.1 L657.8 236.8 L659.6 236.5 L661.4 236.2 L663.2 235.9 L665.0 235.6 L666.8 235.3 L668.7 235.0 L670.5 234.7 L672.3 234.4 L674.1 234.1 L675.9 233.8" fill="none" stroke="#000000" stroke-width="2.8" stroke-dasharray="8 7.4" stroke-linejoin="round"/>
<path d="M588.10 343.40h8.5M604.60 343.40h7.5" stroke="#ff0000" stroke-width="2.8"/>
<path d="M588.10 379.30h8.5M604.60 379.30h7.5" stroke="#000000" stroke-width="2.8"/>
<path d="M588.10 361.10h27" stroke="#0000ff" stroke-width="2.8" stroke-dasharray="1.5 1.8"/>
<text x="620.30" y="347.30" font-size="10.8">q = 0</text>
<text x="620.30" y="365.00" font-size="10.8">q = 0.5</text>
<text x="620.30" y="383.20" font-size="10.8">q = 1</text>
<line x1="217.5" x2="517.9" y1="607.50" y2="607.50" stroke="#d2d2d2" stroke-width="1"/>
<path d="M255.30 642.5v-2.6M255.30 457.5v2.6M319.50 642.5v-2.6M319.50 457.5v2.6M383.70 642.5v-2.6M383.70 457.5v2.6M447.90 642.5v-2.6M447.90 457.5v2.6M512.10 642.5v-2.6M512.10 457.5v2.6M223.20 642.5v-1.5M223.20 457.5v1.5M239.25 642.5v-1.5M239.25 457.5v1.5M255.30 642.5v-1.5M255.30 457.5v1.5M271.35 642.5v-1.5M271.35 457.5v1.5M287.40 642.5v-1.5M287.40 457.5v1.5M303.45 642.5v-1.5M303.45 457.5v1.5M319.50 642.5v-1.5M319.50 457.5v1.5M335.55 642.5v-1.5M335.55 457.5v1.5M351.60 642.5v-1.5M351.60 457.5v1.5M367.65 642.5v-1.5M367.65 457.5v1.5M383.70 642.5v-1.5M383.70 457.5v1.5M399.75 642.5v-1.5M399.75 457.5v1.5M415.80 642.5v-1.5M415.80 457.5v1.5M431.85 642.5v-1.5M431.85 457.5v1.5M447.90 642.5v-1.5M447.90 457.5v1.5M463.95 642.5v-1.5M463.95 457.5v1.5M480.00 642.5v-1.5M480.00 457.5v1.5M496.05 642.5v-1.5M496.05 457.5v1.5M512.10 642.5v-1.5M512.10 457.5v1.5M217.5 607.50h2.6M517.9 607.50h-2.6M217.5 563.25h2.6M517.9 563.25h-2.6M217.5 519.00h2.6M517.9 519.00h-2.6M217.5 474.75h2.6M517.9 474.75h-2.6M217.5 634.05h1.5M517.9 634.05h-1.5M217.5 625.20h1.5M517.9 625.20h-1.5M217.5 616.35h1.5M517.9 616.35h-1.5M217.5 607.50h1.5M517.9 607.50h-1.5M217.5 598.65h1.5M517.9 598.65h-1.5M217.5 589.80h1.5M517.9 589.80h-1.5M217.5 580.95h1.5M517.9 580.95h-1.5M217.5 572.10h1.5M517.9 572.10h-1.5M217.5 563.25h1.5M517.9 563.25h-1.5M217.5 554.40h1.5M517.9 554.40h-1.5M217.5 545.55h1.5M517.9 545.55h-1.5M217.5 536.70h1.5M517.9 536.70h-1.5M217.5 527.85h1.5M517.9 527.85h-1.5M217.5 519.00h1.5M517.9 519.00h-1.5M217.5 510.15h1.5M517.9 510.15h-1.5M217.5 501.30h1.5M517.9 501.30h-1.5M217.5 492.45h1.5M517.9 492.45h-1.5M217.5 483.60h1.5M517.9 483.60h-1.5M217.5 474.75h1.5M517.9 474.75h-1.5M217.5 465.90h1.5M517.9 465.90h-1.5" stroke="#838383" stroke-width="0.8" fill="none"/>
<rect x="217.5" y="457.5" width="300.4" height="185.0" fill="none" stroke="#838383" stroke-width="1"/>
<text x="255.30" y="654.30" text-anchor="middle" font-size="10.5">2</text>
<text x="319.50" y="654.30" text-anchor="middle" font-size="10.5">4</text>
<text x="383.70" y="654.30" text-anchor="middle" font-size="10.5">6</text>
<text x="447.90" y="654.30" text-anchor="middle" font-size="10.5">8</text>
<text x="512.10" y="654.30" text-anchor="middle" font-size="10.5">10</text>
<text x="215.30" y="611.30" text-anchor="end" font-size="10.5">0.0</text>
<text x="215.30" y="567.05" text-anchor="end" font-size="10.5">0.5</text>
<text x="215.30" y="522.80" text-anchor="end" font-size="10.5">1.0</text>
<text x="215.30" y="478.55" text-anchor="end" font-size="10.5">1.5</text>
<text x="367.10" y="669.00" text-anchor="middle" font-size="10.2" font-style="italic">T<tspan dx="1.9" font-size="11" dy="0.6">/</tspan><tspan dx="0.9" dy="-0.6">K</tspan></text>
<text x="509.50" y="480.80" text-anchor="end" font-size="15.6">(e)</text>
<text transform="translate(196.6,550.1) rotate(-90)" text-anchor="middle" font-size="11.2" font-style="italic">C<tspan font-size="8.3" dy="0.9" font-style="italic">v</tspan></text>
<path d="M266.3 466.1 L266.6 467.8 L266.8 469.4 L267.1 471.1 L267.4 472.7 L267.7 474.3 L268.0 475.9 L268.3 477.5 L268.7 479.0 L269.0 480.6 L269.3 482.2 L269.7 483.7 L270.1 485.3 L270.4 486.8 L270.8 488.3 L271.2 489.9 L271.6 491.4 L272.0 492.9 L272.4 494.5 L272.8 496.0 L273.2 497.5 L273.6 499.0 L274.0 500.5 L274.5 502.1 L274.9 503.6 L275.4 505.1 L275.8 506.6 L276.3 508.2 L276.8 509.7 L277.2 511.3 L277.7 512.8 L278.2 514.4 L278.7 516.0 L279.2 517.5 L279.7 519.1 L280.2 520.7 L280.7 522.3 L281.3 523.8 L281.8 525.4 L282.4 527.0 L282.9 528.6 L283.5 530.2 L284.1 531.7 L284.7 533.3 L285.3 534.8 L286.0 536.4 L286.6 537.9 L287.3 539.4 L288.0 541.0 L288.7 542.5 L289.4 543.9 L290.1 545.4 L290.9 546.9 L291.7 548.3 L292.5 549.7 L293.3 551.1 L294.2 552.5 L295.1 553.8 L296.0 555.1 L296.9 556.4 L297.9 557.7 L298.9 558.9 L299.9 560.2 L300.9 561.4 L302.0 562.5 L303.0 563.7 L304.1 564.8 L305.3 565.9 L306.4 567.0 L307.6 568.1 L308.8 569.1 L310.0 570.1 L311.2 571.1 L312.4 572.1 L313.7 573.0 L315.0 574.0 L316.3 574.9 L317.6 575.8 L318.9 576.6 L320.3 577.5 L321.6 578.3 L323.0 579.1 L324.4 579.9 L325.8 580.7 L327.2 581.5 L328.6 582.2 L330.1 582.9 L331.5 583.6 L333.0 584.3 L334.5 585.0 L336.0 585.6 L337.4 586.2 L339.0 586.9 L340.5 587.5 L342.0 588.0 L343.5 588.6 L345.0 589.2 L346.6 589.7 L348.1 590.2 L349.7 590.7 L351.3 591.2 L352.8 591.7 L354.4 592.2 L356.0 592.6 L357.5 593.1 L359.1 593.5 L360.7 593.9 L362.3 594.3 L363.9 594.7 L365.4 595.1 L367.0 595.5 L368.6 595.8 L370.2 596.2 L371.8 596.5 L373.4 596.8 L375.0 597.1 L376.6 597.4 L378.2 597.7 L379.8 598.0 L381.4 598.3 L383.0 598.5 L384.6 598.8 L386.2 599.0 L387.8 599.3 L389.4 599.5 L391.0 599.7 L392.6 599.9 L394.2 600.1 L395.8 600.3 L397.4 600.5 L399.0 600.7 L400.6 600.8 L402.2 601.0 L403.8 601.1 L405.4 601.3 L407.0 601.4 L408.6 601.5 L410.2 601.7 L411.8 601.8 L413.5 601.9 L415.1 602.0 L416.7 602.1 L418.3 602.2 L419.9 602.3 L421.5 602.4 L423.1 602.5 L424.8 602.5 L426.4 602.6 L428.0 602.7 L429.6 602.7 L431.2 602.8 L432.8 602.9 L434.5 602.9 L436.1 603.0 L437.7 603.0 L439.3 603.1 L440.9 603.1 L442.5 603.1 L444.2 603.2 L445.8 603.2 L447.4 603.3 L449.0 603.3 L450.6 603.3 L452.3 603.3 L453.9 603.4 L455.5 603.4 L457.1 603.4 L458.7 603.5 L460.4 603.5 L462.0 603.5 L463.6 603.5 L465.2 603.6 L466.8 603.6 L468.5 603.6 L470.1 603.6 L471.7 603.7 L473.3 603.7 L474.9 603.7 L476.6 603.8 L478.2 603.8 L479.8 603.8 L481.4 603.9 L483.0 603.9 L484.6 604.0 L486.3 604.0 L487.9 604.1 L489.5 604.1 L491.1 604.2 L492.7 604.3 L494.3 604.3 L496.0 604.4 L497.6 604.5 L499.2 604.6 L500.8 604.6 L502.4 604.7 L504.0 604.8 L505.6 604.9 L507.2 605.0 L508.9 605.1 L510.5 605.3" fill="none" stroke="#ff0000" stroke-width="2.8" stroke-dasharray="8 7.4" stroke-linejoin="round"/>
<path d="M246.5 466.0 L246.5 466.9 L246.5 467.7 L246.5 468.6 L246.6 469.5 L246.6 470.4 L246.6 471.2 L246.7 472.1 L246.7 473.0 L246.7 473.9 L246.8 474.7 L246.8 475.6 L246.9 476.5 L246.9 477.3 L246.9 478.2 L247.0 479.1 L247.1 479.9 L247.1 480.8 L247.2 481.7 L247.2 482.5 L247.3 483.4 L247.4 484.3 L247.4 485.1 L247.5 486.0 L247.6 486.9 L247.7 487.7 L247.7 488.6 L247.8 489.5 L247.9 490.3 L248.0 491.2 L248.1 492.0 L248.2 492.9 L248.3 493.8 L248.4 494.6 L248.5 495.5 L248.6 496.3 L248.7 497.2 L248.8 498.1 L248.9 498.9 L249.0 499.8 L249.1 500.6 L249.2 501.5 L249.3 502.4 L249.4 503.2 L249.5 504.1 L249.7 504.9 L249.8 505.8 L249.9 506.6 L250.0 507.5 L250.2 508.3 L250.3 509.2 L250.4 510.1 L250.6 510.9 L250.7 511.8 L250.8 512.6 L251.0 513.5 L251.1 514.3 L251.3 515.2 L251.4 516.0 L251.6 516.9 L251.7 517.7 L251.9 518.6 L252.0 519.4 L252.2 520.3 L252.3 521.1 L252.5 522.0 L252.7 522.8 L252.8 523.7 L253.0 524.5 L253.1 525.3 L253.3 526.2 L253.5 527.0 L253.7 527.9 L253.8 528.7 L254.0 529.6 L254.2 530.4 L254.4 531.3 L254.5 532.1 L254.7 533.0 L254.9 533.8 L255.1 534.6 L255.3 535.5 L255.4 536.3 L255.6 537.2 L255.8 538.0 L256.0 538.9 L256.2 539.7 L256.4 540.5 L256.6 541.4 L256.8 542.2 L257.0 543.1 L257.2 543.9 L257.4 544.7 L257.6 545.6 L257.8 546.4 L258.0 547.3 L258.2 548.1 L258.4 548.9 L258.6 549.8 L258.8 550.6 L259.1 551.4 L259.3 552.3 L259.5 553.1 L259.7 554.0 L259.9 554.8 L260.1 555.6 L260.3 556.5 L260.6 557.3 L260.8 558.1 L261.0 559.0 L261.2 559.8 L261.5 560.6 L261.7 561.5 L261.9 562.3 L262.1 563.1 L262.4 564.0 L262.6 564.8 L262.8 565.6 L263.1 566.5 L263.3 567.3 L263.5 568.1 L263.8 569.0 L264.0 569.8 L264.2 570.6 L264.5 571.5 L264.7 572.3 L264.9 573.1 L265.2 574.0 L265.4 574.8 L265.7 575.6 L265.9 576.4 L266.2 577.3 L266.4 578.1 L266.6 578.9 L266.9 579.8 L267.1 580.6 L267.4 581.4 L267.6 582.2 L267.9 583.1 L268.1 583.9 L268.4 584.7 L268.6 585.6 L268.9 586.4 L269.1 587.2 L269.4 588.0 L269.6 588.9 L269.9 589.7 L270.1 590.5 L270.4 591.4 L270.6 592.2 L270.9 593.0 L271.2 593.8 L271.4 594.7 L271.7 595.5 L271.9 596.3 L272.2 597.1 L272.4 598.0 L272.7 598.8 L273.0 599.6 L273.2 600.4 L273.5 601.3 L273.7 602.1 L274.0 602.9 L274.3 603.7 L274.5 604.6 L274.8 605.4 L275.0 606.2 L275.3 607.0 L275.6 607.9 L275.8 608.7 L276.1 609.5 L276.4 610.3 L276.6 611.2 L276.9 612.0 L277.2 612.8 L277.4 613.6 L277.7 614.4 L277.9 615.3 L278.2 616.1 L278.5 616.9 L278.7 617.7 L279.0 618.6 L279.3 619.4 L279.5 620.2 L279.8 621.0 L280.1 621.8 L280.3 622.7 L280.6 623.5 L280.8 624.3 L281.1 625.1 L281.4 626.0 L281.6 626.8 L281.9 627.6 L282.2 628.4 L282.4 629.2 L282.7 630.1 L283.0 630.9 L283.2 631.7 L283.5 632.5 L283.7 633.4" fill="none" stroke="#0000ff" stroke-width="2.8" stroke-dasharray="1.5 1.8" stroke-linejoin="round"/>
<path d="M283.3 633.5 L284.0 631.9 L284.6 630.3 L285.2 628.7 L285.8 627.1 L286.3 625.5 L286.8 623.8 L287.3 622.2 L287.7 620.5 L288.1 618.9 L288.5 617.2 L288.9 615.5 L289.2 613.9 L289.5 612.2 L289.8 610.5 L290.0 608.8 L290.3 607.1 L290.5 605.4 L290.7 603.7 L290.9 602.0 L291.0 600.3 L291.2 598.6 L291.3 596.9 L291.5 595.2 L291.6 593.4 L291.7 591.7 L291.8 590.0 L291.9 588.3 L292.0 586.6 L292.1 584.9 L292.2 583.2 L292.3 581.5 L292.4 579.7 L292.5 578.0 L292.7 576.3 L292.8 574.6 L292.9 572.9 L293.0 571.2 L293.2 569.6 L293.3 567.9 L293.5 566.2 L293.7 564.5 L293.8 562.8 L294.0 561.1 L294.2 559.4 L294.3 557.7 L294.5 556.0 L294.6 554.3 L294.7 552.6 L294.9 550.8 L295.0 549.1 L295.2 547.3 L295.5 545.5 L295.9 543.7 L296.3 541.9 L296.9 540.1 L297.7 538.5 L298.5 537.4 L299.3 537.0 L300.2 537.5 L301.1 538.8 L302.0 540.4 L302.9 542.0 L303.8 543.6 L304.6 545.1 L305.4 546.6 L306.1 548.0 L306.9 549.5 L307.7 551.0 L308.5 552.6 L309.2 554.2 L310.0 555.7 L310.8 557.3 L311.6 559.0 L312.4 560.6 L313.2 562.1 L314.1 563.7 L315.0 565.3 L315.9 566.8 L316.8 568.3 L317.8 569.8 L318.8 571.2 L319.9 572.6 L321.0 573.9 L322.1 575.2 L323.3 576.4 L324.5 577.6 L325.7 578.7 L327.0 579.8 L328.3 580.8 L329.7 581.8 L331.1 582.7 L332.5 583.6 L333.9 584.5 L335.4 585.3 L336.8 586.1 L338.3 586.9 L339.9 587.6 L341.4 588.3 L343.0 589.0 L344.6 589.6 L346.2 590.2 L347.8 590.8 L349.4 591.3 L351.0 591.9 L352.7 592.4 L354.3 592.9 L356.0 593.4 L357.6 593.8 L359.3 594.3 L360.9 594.7 L362.6 595.1 L364.3 595.5 L365.9 595.9 L367.6 596.3 L369.3 596.7 L371.0 597.0 L372.6 597.4 L374.3 597.7 L376.0 598.0 L377.7 598.3 L379.4 598.6 L381.1 598.9 L382.7 599.2 L384.4 599.5 L386.1 599.7 L387.8 600.0 L389.5 600.2 L391.2 600.4 L392.9 600.7 L394.6 600.9 L396.3 601.1 L398.0 601.3 L399.7 601.4 L401.4 601.6 L403.1 601.8 L404.8 601.9 L406.5 602.1 L408.2 602.2 L409.9 602.4 L411.6 602.5 L413.3 602.6 L415.0 602.7 L416.7 602.9 L418.4 603.0 L420.1 603.1 L421.8 603.2 L423.6 603.2 L425.3 603.3 L427.0 603.4 L428.7 603.5 L430.4 603.5 L432.1 603.6 L433.8 603.7 L435.6 603.7 L437.3 603.8 L439.0 603.8 L440.7 603.9 L442.4 603.9 L444.1 604.0 L445.8 604.0 L447.6 604.0 L449.3 604.1 L451.0 604.1 L452.7 604.1 L454.4 604.1 L456.1 604.2 L457.9 604.2 L459.6 604.2 L461.3 604.3 L463.0 604.3 L464.7 604.3 L466.4 604.3 L468.2 604.4 L469.9 604.4 L471.6 604.4 L473.3 604.4 L475.0 604.5 L476.7 604.5 L478.4 604.5 L480.2 604.6 L481.9 604.6 L483.6 604.6 L485.3 604.7 L487.0 604.7 L488.7 604.8 L490.4 604.8 L492.1 604.9 L493.8 604.9 L495.5 605.0 L497.2 605.0 L498.9 605.1 L500.6 605.2 L502.3 605.3 L504.0 605.3 L505.7 605.4 L507.4 605.5 L509.1 605.6 L510.8 605.7 L512.5 605.8" fill="none" stroke="#0000ff" stroke-width="2.8" stroke-dasharray="1.5 1.8" stroke-linejoin="round"/>
<path d="M246.1 466.1 L246.2 466.9 L246.2 467.7 L246.3 468.6 L246.3 469.4 L246.4 470.2 L246.5 471.0 L246.5 471.8 L246.6 472.6 L246.7 473.4 L246.7 474.2 L246.8 475.0 L246.9 475.8 L247.0 476.6 L247.0 477.4 L247.1 478.3 L247.2 479.1 L247.3 479.9 L247.3 480.7 L247.4 481.5 L247.5 482.3 L247.6 483.1 L247.6 483.9 L247.7 484.7 L247.8 485.5 L247.9 486.3 L248.0 487.2 L248.1 488.0 L248.1 488.8 L248.2 489.6 L248.3 490.4 L248.4 491.2 L248.5 492.0 L248.6 492.8 L248.7 493.6 L248.8 494.4 L248.9 495.2 L249.0 496.0 L249.1 496.9 L249.2 497.7 L249.3 498.5 L249.4 499.3 L249.5 500.1 L249.6 500.9 L249.7 501.7 L249.8 502.5 L249.9 503.3 L250.0 504.1 L250.1 504.9 L250.2 505.7 L250.3 506.6 L250.4 507.4 L250.5 508.2 L250.7 509.0 L250.8 509.8 L250.9 510.6 L251.0 511.4 L251.1 512.2 L251.2 513.0 L251.4 513.8 L251.5 514.6 L251.6 515.4 L251.7 516.2 L251.9 517.0 L252.0 517.8 L252.1 518.6 L252.3 519.5 L252.4 520.3 L252.5 521.1 L252.7 521.9 L252.8 522.7 L252.9 523.5 L253.1 524.3 L253.2 525.1 L253.3 525.9 L253.5 526.7 L253.6 527.5 L253.8 528.3 L253.9 529.1 L254.1 529.9 L254.2 530.7 L254.4 531.5 L254.5 532.3 L254.7 533.1 L254.8 533.9 L255.0 534.7 L255.1 535.5 L255.3 536.3 L255.5 537.1 L255.6 537.9 L255.8 538.7 L256.0 539.5 L256.1 540.3 L256.3 541.1 L256.5 541.9 L256.6 542.7 L256.8 543.5 L257.0 544.3 L257.2 545.1 L257.3 545.9 L257.5 546.7 L257.7 547.5 L257.9 548.2 L258.1 549.0 L258.2 549.8 L258.4 550.6 L258.6 551.4 L258.8 552.2 L259.0 553.0 L259.2 553.8 L259.4 554.6 L259.6 555.4 L259.8 556.2 L260.0 557.0 L260.2 557.7 L260.4 558.5 L260.6 559.3 L260.8 560.1 L261.0 560.9 L261.2 561.7 L261.4 562.5 L261.6 563.3 L261.8 564.0 L262.0 564.8 L262.3 565.6 L262.5 566.4 L262.7 567.2 L262.9 568.0 L263.1 568.7 L263.4 569.5 L263.6 570.3 L263.8 571.1 L264.1 571.9 L264.3 572.6 L264.5 573.4 L264.8 574.2 L265.0 575.0 L265.2 575.8 L265.5 576.5 L265.7 577.3 L266.0 578.1 L266.2 578.9 L266.5 579.6 L266.7 580.4 L267.0 581.2 L267.2 582.0 L267.5 582.7 L267.7 583.5 L268.0 584.3 L268.2 585.0 L268.5 585.8 L268.8 586.6 L269.0 587.3 L269.3 588.1 L269.6 588.9 L269.8 589.6 L270.1 590.4 L270.4 591.2 L270.7 591.9 L271.0 592.7 L271.2 593.5 L271.5 594.2 L271.8 595.0 L272.1 595.8 L272.4 596.5 L272.7 597.3 L273.0 598.0 L273.3 598.8 L273.6 599.5 L273.9 600.3 L274.2 601.1 L274.5 601.8 L274.8 602.6 L275.1 603.3 L275.4 604.1 L275.7 604.8 L276.0 605.6 L276.3 606.3 L276.6 607.1 L277.0 607.8 L277.3 608.6 L277.6 609.3 L277.9 610.1 L278.2 610.8 L278.6 611.6 L278.9 612.3 L279.2 613.0 L279.6 613.8 L279.9 614.5 L280.3 615.3 L280.6 616.0 L280.9 616.8 L281.3 617.5 L281.6 618.2 L282.0 619.0 L282.3 619.7 L282.7 620.4 L283.0 621.2 L283.4 621.9 L283.8 622.6" fill="none" stroke="#000000" stroke-width="2.8" stroke-dasharray="8 7.4" stroke-linejoin="round"/>
<path d="M284.1 622.6 L284.9 621.3 L285.6 619.9 L286.2 618.5 L286.9 617.2 L287.5 615.8 L288.1 614.4 L288.7 613.1 L289.2 611.7 L289.7 610.4 L290.2 609.0 L290.6 607.6 L291.1 606.3 L291.5 604.9 L291.9 603.5 L292.3 602.1 L292.6 600.7 L292.9 599.3 L293.2 597.9 L293.5 596.5 L293.8 595.0 L294.1 593.6 L294.3 592.1 L294.5 590.6 L294.8 589.2 L295.0 587.7 L295.1 586.1 L295.3 584.6 L295.5 583.0 L295.6 581.5 L295.8 579.9 L295.9 578.3 L296.1 576.7 L296.3 575.1 L296.4 573.5 L296.6 572.0 L296.9 570.4 L297.1 568.9 L297.4 567.4 L297.8 566.0 L298.2 564.6 L298.6 563.2 L299.1 561.9 L299.7 560.7 L300.3 559.5 L301.0 558.3 L301.8 557.3 L302.6 556.4 L303.6 555.8 L304.6 555.6 L305.6 556.0 L306.7 556.7 L307.9 557.6 L309.0 558.8 L310.1 560.1 L311.1 561.4 L312.1 562.7 L313.1 564.0 L314.0 565.2 L314.9 566.5 L315.8 567.7 L316.7 568.9 L317.5 570.1 L318.4 571.3 L319.4 572.4 L320.3 573.5 L321.3 574.6 L322.3 575.7 L323.4 576.8 L324.5 577.8 L325.6 578.8 L326.7 579.8 L327.9 580.8 L329.1 581.7 L330.3 582.6 L331.5 583.4 L332.8 584.2 L334.0 585.0 L335.3 585.8 L336.6 586.5 L337.9 587.2 L339.2 587.9 L340.6 588.5 L341.9 589.1 L343.3 589.7 L344.6 590.3 L346.0 590.8 L347.4 591.3 L348.8 591.8 L350.2 592.2 L351.6 592.7 L353.0 593.1 L354.5 593.5 L355.9 593.9 L357.3 594.3 L358.8 594.6 L360.2 595.0 L361.7 595.3 L363.1 595.6 L364.6 596.0 L366.1 596.3 L367.5 596.5 L369.0 596.8 L370.4 597.1 L371.9 597.4 L373.4 597.6 L374.8 597.9 L376.3 598.1 L377.8 598.4 L379.2 598.6 L380.7 598.9 L382.2 599.1 L383.6 599.3 L385.1 599.5 L386.6 599.7 L388.0 599.9 L389.5 600.1 L391.0 600.3 L392.5 600.5 L393.9 600.6 L395.4 600.8 L396.9 601.0 L398.4 601.1 L399.8 601.3 L401.3 601.4 L402.8 601.6 L404.3 601.7 L405.7 601.8 L407.2 602.0 L408.7 602.1 L410.2 602.2 L411.7 602.3 L413.1 602.4 L414.6 602.5 L416.1 602.6 L417.6 602.7 L419.1 602.8 L420.5 602.9 L422.0 603.0 L423.5 603.1 L425.0 603.2 L426.5 603.3 L428.0 603.3 L429.4 603.4 L430.9 603.5 L432.4 603.5 L433.9 603.6 L435.4 603.7 L436.9 603.7 L438.3 603.8 L439.8 603.8 L441.3 603.9 L442.8 603.9 L444.3 604.0 L445.8 604.0 L447.3 604.0 L448.7 604.1 L450.2 604.1 L451.7 604.2 L453.2 604.2 L454.7 604.2 L456.2 604.3 L457.7 604.3 L459.2 604.3 L460.6 604.3 L462.1 604.4 L463.6 604.4 L465.1 604.4 L466.6 604.5 L468.1 604.5 L469.6 604.5 L471.0 604.5 L472.5 604.6 L474.0 604.6 L475.5 604.6 L477.0 604.6 L478.5 604.7 L480.0 604.7 L481.4 604.7 L482.9 604.8 L484.4 604.8 L485.9 604.8 L487.4 604.9 L488.9 604.9 L490.4 604.9 L491.8 605.0 L493.3 605.0 L494.8 605.0 L496.3 605.1 L497.8 605.1 L499.2 605.2 L500.7 605.2 L502.2 605.3 L503.7 605.3 L505.2 605.4 L506.7 605.4 L508.1 605.5 L509.6 605.5 L511.1 605.6 L512.6 605.7" fill="none" stroke="#000000" stroke-width="2.8" stroke-dasharray="8 7.4" stroke-dashoffset="9.29" stroke-linejoin="round"/>
<path d="M395.50 484.30h8.5M412.00 484.30h7.5" stroke="#ff0000" stroke-width="2.8"/>
<path d="M395.50 520.40h8.5M412.00 520.40h7.5" stroke="#000000" stroke-width="2.8"/>
<path d="M395.50 502.10h27" stroke="#0000ff" stroke-width="2.8" stroke-dasharray="1.5 1.8"/>
<text x="428.00" y="488.20" font-size="10.8">q = 0</text>
<text x="428.00" y="506.00" font-size="10.8">q = 0.5</text>
<text x="428.00" y="524.30" font-size="10.8">q = 1</text>
</svg>
</body></html>
